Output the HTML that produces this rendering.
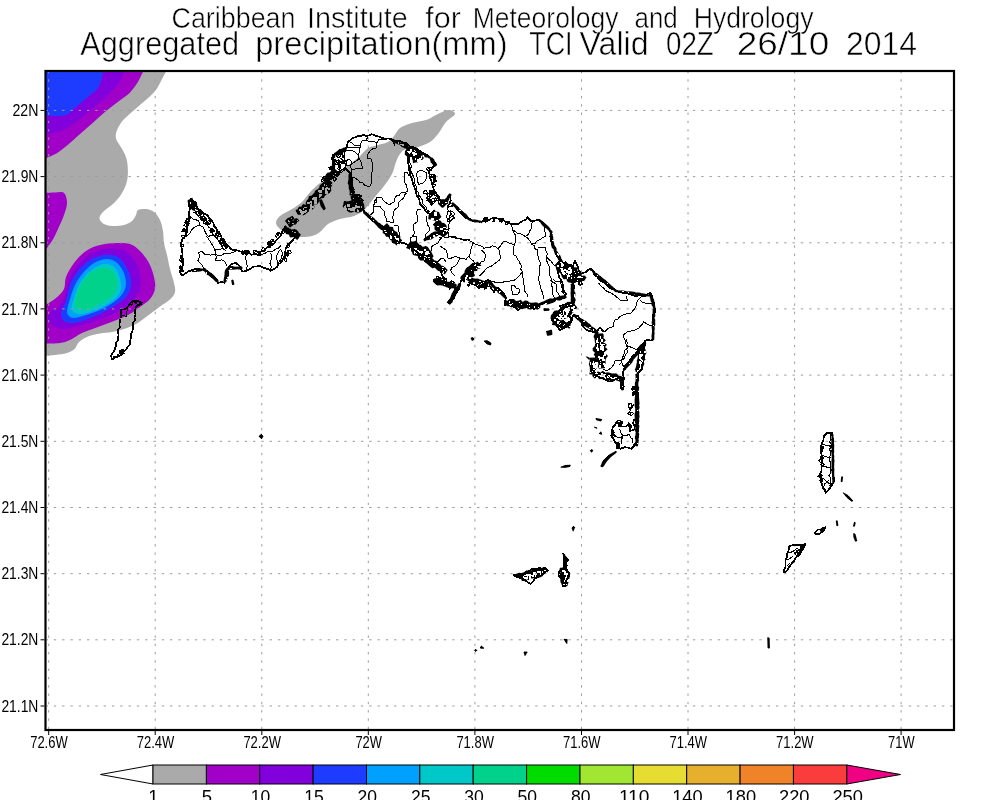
<!DOCTYPE html>
<html lang="en"><head><meta charset="utf-8">
<title>Caribbean Institute for Meteorology and Hydrology - Aggregated precipitation TCI</title>
<style>
html,body{margin:0;padding:0;background:#fff;}
body{width:1000px;height:800px;overflow:hidden;}
svg{display:block;}
text{font-family:"Liberation Sans",sans-serif;fill:#000;}
.t{stroke:#fff;stroke-width:.55px;}
.ax{font-size:16.1px;}
.cb{font-size:18.5px;}
</style></head><body>
<svg width="1000" height="800" viewBox="0 0 1000 800">
<rect width="1000" height="800" fill="#fff"/>
<defs><clipPath id="fr"><rect x="45.5" y="71" width="908.5" height="659"/></clipPath></defs>
<g clip-path="url(#fr)">
<path fill="#aaaaaa" d="M167 70C166.2 71.5 163.6 76.1 162 79C160.4 81.9 159.5 84.6 157.6 87.4C155.7 90.2 153.4 93 150.6 95.8C147.8 98.6 144.3 101.2 140.8 104.2C137.3 107.2 132.9 111 129.6 114C126.3 117 123.4 119.4 121.2 122.4C119 125.4 117.1 129.4 116.3 132.2C115.5 135 115.5 136.6 116.3 139.2C117.1 141.8 119.6 144.6 121.2 147.6C122.8 150.6 125 154 126.1 157.4C127.2 160.8 127.6 164.1 127.8 168C128 171.9 128 176.8 127 181C126 185.2 124.2 189.3 122 193C119.8 196.7 117 200 114 203C111 206 106.3 208.8 104 211C101.7 213.2 100.7 214.5 100 216C99.3 217.5 99.3 218.7 100 220C100.7 221.3 102 223 104 224C106 225 108.7 225.8 112 226C115.3 226.2 120.7 225.8 124 225C127.3 224.2 130 222.7 132 221C134 219.3 135 216.8 136 215C137 213.2 136.3 211 138 210C139.7 209 143.3 208.7 146 209C148.7 209.3 151.7 210.2 154 212C156.3 213.8 158.5 216.8 160 220C161.5 223.2 162.3 227.2 163 231C163.7 234.8 163.3 239 164 243C164.7 247 166 250.7 167 255C168 259.3 168.8 264.3 170 269C171.2 273.7 173.2 279.2 174 283C174.8 286.8 175.6 289.3 175 292C174.4 294.7 173 296.6 170.5 299C168 301.4 163.8 303.8 160 306.5C156.2 309.2 152 312.6 148 315.5C144 318.4 140 321.8 136 324C132 326.2 128 327.7 124 329C120 330.3 116 331.2 112 332C108 332.8 104 332.8 100 333.5C96 334.2 91.5 335.1 88 336.5C84.5 337.9 81.2 339.9 79 342C76.8 344.1 76.5 347.2 74.5 349C72.5 350.8 70.2 352 67 353C63.8 354 58.8 354.5 55 355C51.2 355.5 45.8 355.8 44 356L40 356L40 60L167 60Z"/>
<path fill="#aaaaaa" d="M448 110C451.2 109.8 455.3 112 455 114C454.7 116 448.8 118.7 446 122C443.2 125.3 440.7 130.7 438 134C435.3 137.3 433.3 139.8 430 142C426.7 144.2 422 145.8 418 147C414 148.2 409 147.8 406 149C403 150.2 401.7 151.8 400 154C398.3 156.2 397.3 158.7 396 162C394.7 165.3 394 170 392 174C390 178 387 182 384 186C381 190 377.3 194 374 198C370.7 202 367.3 207 364 210C360.7 213 358 214.5 354 216C350 217.5 344.3 217.7 340 219C335.7 220.3 331.3 221.8 328 224C324.7 226.2 322.7 230 320 232C317.3 234 315.3 235.2 312 236C308.7 236.8 304 237.3 300 237C296 236.7 291.3 235.3 288 234C284.7 232.7 282 230.8 280 229C278 227.2 276 225.2 276 223C276 220.8 277.3 218.3 280 216C282.7 213.7 288.3 211.3 292 209C295.7 206.7 298.7 205.2 302 202C305.3 198.8 308.3 193.7 312 190C315.7 186.3 319.7 183 324 180C328.3 177 333.7 174.7 338 172C342.3 169.3 346.3 166.7 350 164C353.7 161.3 357 158.7 360 156C363 153.3 365 149.8 368 148C371 146.2 374.7 146 378 145C381.3 144 385.3 143.5 388 142C390.7 140.5 392 138.3 394 136C396 133.7 397 130.2 400 128C403 125.8 407.7 124.3 412 123C416.3 121.7 422 121.3 426 120C430 118.7 432.3 116.7 436 115C439.7 113.3 444.8 110.2 448 110Z"/>
<path fill="#a000c8" d="M144.3 69C143.2 71.1 140.4 77.8 138 81.8C135.6 85.8 132.9 89.7 129.6 93C126.3 96.3 122.4 98.4 118.4 101.4C114.4 104.4 110 107.7 105.8 111.2C101.6 114.7 97.4 118.7 93.2 122.4C89 126.1 84.8 129.9 80.6 133.6C76.4 137.3 72 141.5 68 144.8C64 148.1 60.8 150.8 56.8 153.2C52.8 155.6 46.1 158 44 159L40 159L40 60L144 60Z"/>
<path fill="#8200dc" d="M125.4 69C124.2 71.4 121.4 78.7 118.4 83.2C115.4 87.7 110.9 92.1 107.2 95.8C103.5 99.5 99.7 102.3 96 105.6C92.3 108.9 88.5 112.4 84.8 115.4C81.1 118.4 77.6 121.2 73.6 123.8C69.6 126.4 65.9 128.9 61 130.8C56.1 132.8 46.8 134.7 44 135.5L40 135L40 60L125 60Z"/>
<path fill="#1e3cff" d="M103 69C102.8 70.7 102.5 75.7 101.6 79C100.7 82.3 99.7 85.8 97.4 88.8C95.1 91.8 90.9 94.4 87.6 97.2C84.3 100 81.1 102.8 77.8 105.6C74.5 108.4 71.3 112.3 68 114C64.7 115.7 62.2 115.8 58.2 116C54.2 116.2 46.4 115.5 44 115.4L40 115L40 60L103 60Z"/>
<path fill="#a000c8" d="M44 193C45.8 192.9 51.7 192.6 55 192.6C58.3 192.6 62 191.3 64 193C66 194.7 67 199.3 67 203C67 206.7 65.5 210.7 64 215C62.5 219.3 60 224.7 58 229C56 233.3 54.3 237.2 52 241C49.7 244.8 45.3 250.2 44 252L40 252L40 193Z"/>
<path fill="#a000c8" d="M44 306C46 304.7 52.7 300.8 56 298C59.3 295.2 62.3 292.5 64 289C65.7 285.5 64.3 281.3 66 277C67.7 272.7 70.7 267.3 74 263C77.3 258.7 81.7 254 86 251C90.3 248 95 246.3 100 245C105 243.7 111 243.2 116 243C121 242.8 126 242.7 130 244C134 245.3 136.8 247.8 140 251C143.2 254.2 146.7 258.7 149 263C151.3 267.3 153 272.7 154 277C155 281.3 155.7 285.3 155 289C154.3 292.7 152.5 296 150 299C147.5 302 143.7 304.3 140 307C136.3 309.7 132.3 312.7 128 315C123.7 317.3 119 319 114 321C109 323 103.3 325 98 327C92.7 329 86.7 330.8 82 333C77.3 335.2 73.7 338.3 70 340C66.3 341.7 64.3 342.4 60 343C55.7 343.6 46.7 343.4 44 343.5L40 343L40 306Z"/>
<path fill="#8200dc" d="M50 313C52 310.7 57.3 308.3 60 305C62.7 301.7 64.5 297.3 66 293C67.5 288.7 67 283.7 69 279C71 274.3 74.5 269.2 78 265C81.5 260.8 85.7 256.7 90 254C94.3 251.3 99.3 249.8 104 249C108.7 248.2 114 248.3 118 249C122 249.7 125 250.7 128 253C131 255.3 134 259.3 136 263C138 266.7 139.3 270.7 140 275C140.7 279.3 141 285 140 289C139 293 137 295.7 134 299C131 302.3 126.7 306 122 309C117.3 312 111.3 314.7 106 317C100.7 319.3 95.3 321.3 90 323C84.7 324.7 78.7 326 74 327C69.3 328 65.7 329.3 62 329C58.3 328.7 54.3 326.7 52 325C49.7 323.3 48.3 321 48 319C47.7 317 48 315.3 50 313Z"/>
<path fill="#1e3cff" d="M61 313C61.3 309.7 64.5 305.7 66 301C67.5 296.3 68 290 70 285C72 280 74.7 275.2 78 271C81.3 266.8 85.7 262.7 90 260C94.3 257.3 99.7 255.7 104 255C108.3 254.3 112.7 254.7 116 256C119.3 257.3 121.7 259.8 124 263C126.3 266.2 128.8 271 130 275C131.2 279 131.7 283.3 131 287C130.3 290.7 128.5 294 126 297C123.5 300 120 302.3 116 305C112 307.7 106.7 310.7 102 313C97.3 315.3 92.7 317.3 88 319C83.3 320.7 78 322.7 74 323C70 323.3 66.2 322.7 64 321C61.8 319.3 60.7 316.3 61 313Z"/>
<path fill="#00a0ff" d="M67 311C67.2 308.2 68.7 303.3 70 299C71.3 294.7 72.8 289.3 75 285C77.2 280.7 79.8 276.7 83 273C86.2 269.3 90.2 265.3 94 263C97.8 260.7 102.3 259.2 106 259C109.7 258.8 113.2 260 116 262C118.8 264 121.3 267.5 123 271C124.7 274.5 126 279.3 126 283C126 286.7 125 289.8 123 293C121 296.2 117.8 299.2 114 302C110.2 304.8 104.7 307.8 100 310C95.3 312.2 90.3 313.7 86 315C81.7 316.3 76.8 317.8 74 318C71.2 318.2 70.2 317.2 69 316C67.8 314.8 66.8 313.8 67 311Z"/>
<path fill="#00c8c8" d="M72 309C71.5 305.8 73.7 299.3 75 295C76.3 290.7 77.8 286.7 80 283C82.2 279.3 85 275.8 88 273C91 270.2 94.7 267.5 98 266C101.3 264.5 105 263.5 108 264C111 264.5 114 266.5 116 269C118 271.5 119.2 275.7 120 279C120.8 282.3 121.7 285.8 121 289C120.3 292.2 118.8 295.2 116 298C113.2 300.8 108.3 303.7 104 306C99.7 308.3 94.3 310.7 90 312C85.7 313.3 81 314.5 78 314C75 313.5 72.5 312.2 72 309Z"/>
<path fill="#00d28c" d="M75 305C74.7 302.3 75.7 297 77 293C78.3 289 80.5 284.5 83 281C85.5 277.5 88.8 274.2 92 272C95.2 269.8 99 268.5 102 268C105 267.5 107.7 267.7 110 269C112.3 270.3 114.8 273 116 276C117.2 279 117.7 283.7 117 287C116.3 290.3 114.8 293.2 112 296C109.2 298.8 104 301.8 100 304C96 306.2 91.5 308.2 88 309C84.5 309.8 81.2 309.7 79 309C76.8 308.3 75.3 307.7 75 305Z"/>
</g>
<path d="M48.7 72V729M155.2 72V729M261.8 72V729M368.3 72V729M474.9 72V729M581.5 72V729M688 72V729M794.6 72V729M901.1 72V729M46.5 110.4H953M46.5 176.6H953M46.5 242.8H953M46.5 308.9H953M46.5 375.1H953M46.5 441.3H953M46.5 507.5H953M46.5 573.7H953M46.5 639.8H953M46.5 706H953" fill="none" stroke="#9c9c9c" stroke-width="1" stroke-dasharray="2.4 5.9" stroke-dashoffset="1"/>
<g fill="none" stroke="#000" stroke-linejoin="round" stroke-linecap="round" shape-rendering="crispEdges">
<path stroke-width="1.7" d="M131.5 302L134.1 300.8L137 300.5L139.5 301.7L142 302.7L139.1 304.8L136 306.5L135.4 309.1L135 311.7L135.6 314.5L134.5 317L134.9 320.1L132.9 322.9L133.4 326.1L133 329.1L132 332L130.6 334.9L131.1 338L129.9 340.9L130 344L127.8 347L125.5 350L123.3 351.8L121.9 354.4L119.5 356L116.9 357L114.2 357.9L112 359.7L111 356L112.4 353.5L114 351.2L115 348.5L116 346L115.7 343L117.7 340.8L118 338L118.5 335.3L118.2 332.6L118.1 329.8L119.9 327.3L119.5 324.5L119.8 321.5L120.5 318.5L121.1 315.6L121.1 312.5L121 309.5L124.2 309.5L127 308L129.1 304.9ZM298 236.4L295.3 237.5L293.2 239.6L290.9 242.1L288.4 244.4L286.6 246.8L285.6 249.5L285.2 252.4L284.8 255.3L283.7 258L282 260.4L280.8 262.8L278.1 264.2L277.2 266.8L274.1 268.9L270.8 270.8L268.5 269.4L266 268.4L262.7 267.5L259.6 266L256.4 266.4L253.2 266.8L250.9 268.6L248.4 270L245.3 271.1L242 271.6L240.4 266.8L238.1 264.7L235.6 262.8L230.8 264.4L229.1 267.1L227.6 270L226.4 272.5L226.2 275.3L226 278L224.4 282.8L221.2 282L218 282.8L216.4 278.8L213.5 276.3L210 274.8L208.8 272.3L206.5 270.8L204.4 269.2L201.6 269.8L198.8 269.2L196 269.1L193.3 269.4L190.8 270.8L188.1 271.3L186 273.2L182 275.6L179.6 271.6L181.3 268.5L182.8 265.2L182.9 262.5L181.7 259.9L182 257.2L182.6 254.5L182.1 251.9L182 249.2L181.2 246L181.2 242.8L182.5 239.2L185.2 236.4L186.4 233.3L187.1 230.1L186.8 226.8L186.9 223.9L188.9 221.6L189.2 218.8L189.3 215.6L189.1 212.3L190 209.2L189.2 206L189.2 202.8L190.8 198.8L193.3 201.2L196.4 202.8L196.5 206.2L198 209.2L200.9 210.1L202.7 212.6L205.2 214L207.9 215.6L209.2 218.5L211.6 220.4L213.5 222.9L214.2 226.1L216.4 228.4L217.3 231.5L219.6 233.7L221.2 236.4L222 239.5L224.7 241.6L226 244.4L228.6 245.7L230.1 248.3L232.4 250L235.2 249.7L237.8 250.5L240.4 251.6L243.1 251.4L245.7 251.8L248.4 251.6L251.6 254.8L254.8 254.2L258 254.8L259.9 252.2L262.8 250.8L265.3 249.7L266.9 247.3L269.2 246L271.8 245.1L273.9 243.4L275.6 241.2L277.8 238.6L280.4 236.4L282 231.6L283.5 229.2L285.2 226.8L287.3 229L289.3 231.2L291.6 233.2L294.7 234.6L298 235.6M326 177.8L328.7 176.3L331.4 174.8L334 173L334.4 169.7L333.2 166.6L333 163.8L332.7 161L333 158.2L332.4 155.4L335.4 153.8L338.8 153L341.8 150.7L345.2 149L347.1 146.7L347.4 143.7L348.4 141L350.8 139.9L352.8 137.8L355.5 137.3L358 136.2L360.7 136.1L363.3 134.9L366 135.8L368.7 135.6L371.3 134.3L374 134.9L376.6 136.1L379.4 136.8L382 137.8L385.1 138.7L388.4 138.6L391.6 139.4L394.3 140.6L397.1 141.4L400.2 141L402.8 142.6L405.9 143.1L408.3 145.3L410.9 147L414 147.4L416.9 148.6L419.4 150.5L422 152.2L424.6 154L427.5 155.3L430 157.2L432.1 159.4L434 161.8L435.6 164.4L433.2 166.8L431.4 169.4L429.2 171.6L429.4 174.8L430 178L431.4 181.1L432.3 184.3L433.2 187.6L434.4 191L436.4 194L438.7 196.2L439.5 199.4L441.2 202L444.5 201.6L447.6 200.4L448.5 197.8L450 195.6L450.8 200.4L449.6 203.8L447.6 206.8L450.9 206.5L454 205.2L456 207.3L457.2 210L459.7 211.7L461.5 214.2L463.6 216.4L465.8 217.9L468.7 218.2L470.9 219.7L473.2 221.2L476.4 220.9L479.6 221.8L482.8 221.2L486 220L489.4 219.7L492.4 218L495.7 217.9L498.8 218.8L502 219.6L505.1 221.4L508.4 222.8L511.5 224L514.8 223.8L518 224.4L520.4 222.4L523 220.6L526 219.6L527.6 217.2L530.8 221.2L534 221L537.2 220.1L540.4 220.4L541.9 222.7L543.7 224.6L546 226L548.4 228.1L550 231L550.8 233.5L550.3 236.3L550.9 238.8L551.1 241.5L552 244L553.3 246.4L554.6 248.8L555.3 251.4L556 254L557 256.6L559.3 258.3L560.4 260.8L563 262.2L565.2 264L567.9 264.4L570.6 264.9L573.2 265.6L574.8 260.8L576.5 263.9L578 267.2L578.9 270.7L581.2 273.6L586 272L588.1 269.9L590.8 268.8L593.6 270.9L594.4 274.6L597.2 276.8L599.2 279.3L601.4 281.5L604.5 282.7L606.8 284.8L608.8 287.1L611.2 288.6L614.3 289.2L616.4 291.2L619.5 292.2L622.7 292.9L626 292.8L629.1 294.1L632.4 295L635.6 296L638.8 295.6L642 295.7L645.2 296L647.3 294L650 292.8L651.8 295.2L652 298.2L653.2 300.8L654.1 303.4L653.7 306.2L654.8 308.8L655.2 311.7L653.3 314.3L653.3 317.2L653.2 320L652.4 323.2L652.5 326.4L653.2 329.6L652.5 332.8L653.1 336L653.2 339.2L650.7 340.6L647.8 339.8L645.2 340.8L645.2 343.6L644.5 346.2L643.6 348.8L643.5 352.4L644 356L643.6 359.2L643.4 362.4L642 365.5L642.4 368.8L639.9 371.1L637.6 373.6L637.9 376.5L638 379.4L636.9 382.2L637.6 385.1L637.6 388L637.1 390.7L637.9 393.3L638.1 396L637.5 398.7L637 401.3L637.6 404L638.1 406.7L636.8 409.3L636.4 412L636.5 414.6L636.4 417.3L636.8 420L637.9 423.1L637 426.4L636.7 429.6L637.6 432.8L638.1 436.1L637.5 439.2L636.8 442.4L635.1 445.1L632.8 447.2M334 173L337 172L340 171L342.5 169.5L345.2 168.2L347.6 170.6L350 173L350 175.8L351.9 178.2L351.6 181L351.9 183.8L351.2 186.5L350 189L352.2 191.9L353.2 195.4L356.4 194.6L359.6 195.4L360.5 198.3L362.8 200.2L362.2 202.9L363.5 205.5L362.8 208.2L364.4 211.4L366 214.6L368.4 216.5L370.5 218.6L372.4 221L374.9 222L377.1 223.6L379.5 224.7L382 225.8L384.2 227.6L386.4 229.4L388.2 231.6L390 233.8L392.5 235.3L393.9 237.9L395.7 240.1L398 241.8L401.3 242.7L404.6 243.2L407.6 245L410.1 246.1L412 248L414 249.8L416.9 252.1L420 254L422.2 256.4L425.1 257.8L427.2 260.4L430 262L432.4 264.2L435.1 265.9L437.6 267.8L440 270L441.3 272.7L442.3 275.5L444 278L440.7 278.8L437.3 279L434 280L437 281.4L440 283L443.4 282.9L446.7 283.7L450 284L452.8 286.3L456 288L455.7 290.9L454.1 293.4L453 296L451.8 298.4L449.7 300.3L449 303L452 300L454.3 297.7L455.1 294.5L457 292L458.7 289.6L459.5 286.9L460 284L461 281.1L462.6 278.6L464 276L465.5 273.5L468.4 272.4L470 270L472.8 268.2L475.8 266.6L478 264L475.6 266.7L474 270L471.8 272.5L469.7 275.1L468 278L469.9 281.1L472 284L475.3 284.9L478 287L481.1 285.6L484 284L485.4 281.4L488 280L489.6 282.4L489.5 285.5L491 288L494 292L495.4 289.4L498 288L500.5 289.5L502 292L504.6 294.6L506 298L504.8 301.4L505 305L507.1 302.1L510 300L513.3 300.2L516 302L513.6 303.6L512 306L515.4 307.4L518 310L520.4 308.4L522.2 306.2L524 304L526.8 305.6L530 306L534 309L536.5 308L538.1 305.8L540 304L542.8 303.9L545.1 301.9L548 302L551.2 301.5L554 300L557.3 299.4L560.7 299L564 298L566 294L563.9 291.3L563 288L562.8 285.2L562.4 282.5L561 280L559.3 277.6L558.7 274.8L558 272L558.8 269.4L559.9 266.8L560 264M407 153L407.8 156.3L408.2 159.6L408 163L409.1 166.2L409.1 169.7L410 173L410.3 175.9L411.7 178.4L412.5 181.2L413 184L414.2 186.9L415.3 189.9L416.1 193L417 196L418.9 198.2L419.5 201L420 203.9L422 206L424.1 208.2L425.7 211L428 213L430.6 214.2L432.3 216.6L434.8 218M573.2 265.6L572.7 268.4L572.9 271.2L573.2 274L573.2 276.8L572.9 279.6L572.5 282.4L573.8 285.2L573.9 288L572.8 290.8L572.5 293.6L573.2 296.4L573.2 299.2L573.3 302.4L573.2 305.6L569.9 305.7L566.9 307.2L563.6 307.2L561.4 309.1L558.8 310.4L557.6 312.9L555.5 314.6L554 316.8L551.6 320L553.7 321.9L555.7 323.9L557.2 326.4L560.4 326.7L563.6 326.4L566.2 325.5L567.6 322.9L570 321.6L571.9 318.6L573.2 315.2L578 316L579.7 318.7L581.2 321.6L582.2 325.1L584.4 328L586.7 329.7L589.2 331.2L592.5 331.6L595.6 332.8L597.7 335.8L598.8 339.2L599.7 341.9L599 344.6L599.3 347.4L599.7 350.1L599.2 352.8L597.3 355.6L595.2 358.3L592.8 360.8L591.5 363.3L591.8 366.3L590.4 368.8L591.7 372.5L594.4 375.2L597.1 376.2L599.7 377.5L602.4 378.4L605.6 379.9L608.8 381.6L612.2 381L615.2 379.2L617.9 378.5L620 376.8L620.3 380L620.8 383.2L620.8 386.4L621.6 389.6L623.2 389.6L623.8 386.7L623 383.7L623.6 380.8L624 377.9L623.1 374.9L623.2 372L623.8 369.2L624.9 366.5L626.4 364L628.8 361.6L630.9 358.9L632.8 356L635.6 353.8L637.6 351.1L639.2 348L641 345.5L643.1 343.3L645.6 341.6M626 366.4L627.4 363.9L629.1 361.7L631.5 360.1L633.5 358.1L635.3 355.9L636.1 353L638.7 351.5L639.7 348.7L641.6 346.7L643.8 344.8L645.2 342.4M597 331L600 327.5L603 331M552 320L553.5 317.5L556 316L558.6 313.4L562 312L561.6 308.8L560 306L562.6 305L565.3 304.4L568 304L571 303.1L574 302M572 310L569.7 312.8L568 316L570.6 317.4L572 320L570.2 323.2L568 326L565.4 327.4L562.7 328.7L560 330L557.6 327.3L556 324M574 315L575.9 316.8L577.5 319L580 320M616.8 421.6L618.6 423.9L620 426.4L623.2 426.5L626.4 426.4L628.8 423.2L629.7 425.8L629.7 428.5L629.6 431.2L634.4 429.6L634.4 426.4L633.2 423.3L633.6 420L637 420L636.5 423.2L636.6 426.4L638.2 429.6L637.6 432.8L636.5 435.9L637.3 439.2L636.8 442.4L634.4 444.5L632.8 447.2L631.2 448.8L628.1 447.6L624.8 447.2L620 448.8L618.1 446.9L617.1 444.3L615.2 442.4L613.4 439.1L611.2 436L612.1 432.9L612 429.6L613.2 426.7L615.6 424.5ZM513.6 575.2L516.6 575.2L519.2 573.6L524 573.6L526.5 572.7L528.8 571.3L530.9 569.4L533.6 568.8L536.4 568.6L539.2 568.1L542 568.6L544.8 568L547.7 570.4L544.5 572.5L541.6 575.2L538.3 576.7L535.2 578.4L533.2 581.6L530.4 584L527.3 581.8L524 580L521.7 578.6L519.2 577.6L516.2 576.9ZM563.2 553.6L564.5 556.2L566.7 558.1L568.8 560L565.6 561.6L566.7 565.1L566.4 568.8L567.4 571.6L569.6 573.6L568.6 577.1L566.4 580L565.9 583.3L564.8 586.4L562.4 585.6L562.4 582L561.6 578.4L558.4 575.2L559.2 571.2L563.2 568.8L563.6 566.2L563.8 563.5L564 560.8L563.9 557.2ZM827.2 432.8L832 432.8L832.3 435.6L832.7 438.4L833.2 441.2L832.8 444L833.6 446.7L832.4 449.3L832.3 452L832.7 454.7L832.4 457.3L832.8 460L833.3 463.2L833.6 466.4L833.6 469.6L833.6 472.8L832.9 476L834.4 479.2L833.6 482.4L832 484.8L830.4 487.2L828.3 490.3L825.6 492.8L825 490.2L823.2 488.1L822.4 485.6L821.3 482.5L820.6 479.2L820 476L820.6 473.3L821.5 470.8L821.6 468L821.3 464.8L822.2 461.6L820.9 458.4L821.6 455.2L821.2 452.4L820.9 449.6L820.9 446.8L821.6 444L822.9 441.5L823.6 438.8L824 436ZM788.8 546.4L791.5 545.4L794.3 545L797.2 545.1L800.1 545.2L802.9 545L805.6 544L803.9 546.2L802.8 548.7L801.6 551.2L799.9 554L797.5 556.1L795.2 558.4L794.1 561.1L792 563.2L790.3 565.5L788.8 568L786.8 570.8L784 572.8L784.1 569.5L785.6 566.5L785.6 563.2L785.3 559.9L787.2 556.9L787.2 553.6L788.7 550.2ZM814.4 533.6L817.6 529.6L820.5 529.6L822.9 527.8L825.6 527.2L824 530.4L821.5 532.3L819.2 534.4Z"/>
<path stroke-width="1" d="M121.5 309.5L124.5 309.3L127.5 308.7L127 311.4L126.1 314.2L127 317L124.4 315.9L121.5 315.5L121.1 312.5ZM190.8 217.2L193.1 219.2L196.1 219.8L198.8 221.2L199.6 225.2L196.7 226.2L194 227.6L191.6 230.1L190 233.2L186 236.4M199.6 225.2L202.8 226.8L204.4 230L205.9 233.5L208.4 236.4L213.2 234.8L215.4 236.7L218 238M206.8 236.4L208.4 238.8L210 241.2L211.6 243.9L213.3 246.5L214.8 249.2L215.6 254L216.3 257.2L215.6 260.4L218.5 260.7L221.6 259.9L224.4 261.2L226.8 265.2M198.8 252.4L202 251.6L205.2 254.8L207.8 254.8L210.4 255.1L213 254.7L215.6 254.8M198.8 252.4L199.6 257.2L198 260.4L199.9 262.9L202 265.2L203.6 268.4M215.6 249.2L219.3 249.8L222.8 248.4L226 250.8M215.6 254L218.2 255.6L221.2 255.6L224.1 253.6L227.6 253.2L230.4 253.3L233 252.4L235.6 251.6M246 251.6L246.6 254.5L245.2 257.2L246.8 262L247.1 265.6L246.8 269.2M270.8 253.2L271.4 255.9L271.7 258.5L270.7 261.2L269.9 263.9L271.2 266.5L270.8 269.2M259.6 254L262.6 254.2L265.3 253.2L267.8 251.4L270.8 251.6L273.6 250.9L275.7 249L278.5 248.2L280.4 246M280.4 249.2L278.6 251.7L277.3 254.3L276.4 257.2L277.1 260.4L277.2 263.6L279.4 261.3L281.2 258.8L282 255.6L282 252.2ZM194 212.4L196.8 214.4L199 217.1L202 218.8L204.2 221.4L206.9 223.6L208.4 226.8L210.9 228.9L212.4 231.7L213.2 234.8L215.8 237.1L218 239.7L219.6 242.8L221.2 244.9L222.4 247.3L224.4 249.2M348 141L352 143L354 145L357 145.6L360 146L360.8 143.4L362 141L366 140L368 137M347 148L350.1 147.8L353 147L356.6 147.1L360 148L360 146M360 148L359 153L358 155M344 151L347.5 150.4L351 150L355 152L358 155M366 140L368.6 141.3L371.6 141.3L374.4 141.6L377 143L379 139L382 139.9L385 139M377 143L376 148L373.3 148.6L371 150L368 154L367 158L371 159L372 161.9L372.6 164.9L373 168L372.3 170.7L371.5 173.3L371 176L371.3 179.4L371.4 182.8L370 186L367 186L364.4 185L362.8 182.5L359.8 182.2L358 180L355 178L352 177L351.9 173.5L352 170L355.4 168.8L359 169L363 168L361.4 165.2L361 162L359 158L358 155M359 158L357.5 160.2L355.1 161.5L353 163L350 166L352 170M333 155L338 154L340 158L344 161L345.2 163.9L345 167L344.4 170L342 172L339 172.9L336 172L333 168L332.3 165.4L333 162.8L332 160.2L331.9 157.6ZM344 151L344.1 154L344 157L345 161M346 161L349 159L352 162L350 166L346.5 165ZM335 160L337.6 160.8L340 162L338.6 164.3L338 167M334 164L339 165M390 139L393 141.4L394.5 145L395.5 140.5M408.8 153L409.3 156.3L409.7 159.6L409.8 163L411.5 166.1L410.1 169.9L411.8 173L413.1 175.6L414.2 178.3L414.1 181.2L414.8 184L416.5 186.6L416.5 189.8L418.1 192.5L418.8 195.5L420.8 197.5L422.2 199.8L422.1 202.9L423.8 205L426.1 206.9L427.1 209.9L429.5 211.8M404 173L404.6 176.5L405 180L404.7 182.9L406.8 185.2L407 188L408 191L404.7 192.5L401 193L399.3 195.1L396.6 195.8L395 198L394 202L391.4 203.3L389 205L386.4 202.9L383.7 201L382 198L377 197L375.6 199.5L374 202L374 205M404 173L407 172L409 176M417.2 171.6L422 170L424.3 171.8L426.8 173.2L426.8 176.7L425.6 179.9L423.6 182.8L418.8 184.4L417.5 181.3L417.3 178.1L416.6 174.9ZM426.8 194L429.8 192.5L433.3 193.3L436.4 192.4L436.1 195.2L438.1 197.6L438 200.4L435.2 201.2L433.8 203.6L431.6 205.2L429.7 202.3L426.8 200.4L427.7 197.2ZM376 198L377 202L374.3 203.3L373 206L374 210L372.8 213.1L370 215M374 207L377 206.3L380 206.5L382.3 209.4L385 212L384.4 215.4L386.6 218.6L386 222L388.7 221.5L391.3 222.8L394 222L392.8 218.8L393.1 215.4L393 212L395.2 209.2L398 207L399 202L401.3 200L403.7 198.1L404.5 194.8L407 193M394 225L398 226L398.2 228.8L398.8 231.5L400 234L399.3 236.7L399.9 239.3L400 242M421 209L418 209.7L416 212L417 214.6L417.5 217.3L418 220L416.8 222.4L414.2 223.6L413 226L413.4 228.7L414.2 231.3L414 234L412.5 236.5L410 238L410 241.1L411 244M413 236L417 237L416 242M427 216L426.8 219L427 222L427.6 224.8L429.2 227.2L430 230L428 232L426 234L425.7 237.2L424 240M449 236L451.6 237.1L454.6 236.3L457 238L460 238.9L463 240L466.6 240.1L470 239M442 238L439.5 239.7L438.2 242.7L435.8 244.4L432.7 245.4L431 248L431 250.7L430.8 253.4L432 256M447 208L448.4 211L451.1 212.9L452.3 216L455 218L452.4 218.9L450.5 221L448 222L447.5 219.2L446.7 216.5L447.2 213.6L448.2 210.7ZM440 237.4L443 236.7L446 237.8L449 236.9L452 237L455 238L457.6 238.9L460.5 238.6L463 239.7L466.2 239.5L469.2 240.5L472 242L474.4 243.6L477.1 244.7L479.7 245.8L482.5 246.4L484 248.8L486.5 247.2L489.7 247.8L492 245.8L495.3 246.7L498 248.8L500.1 246.3L501.9 243.5L504 241L508.6 242.7L511.5 244L514.7 244L515.6 241L516 238L515.6 235.3L514.1 233L513 230.5L511.7 226L511 223M472 242L472.2 244.8L471.7 247.5L470.5 250L470.6 253.2L469 256L470.7 259L473.5 261L475 264M481 250L483.3 251.6L485 253.6L485.8 256.4L484 261L481.3 261.7L479.7 264M498 248.8L499.6 251.1L499.2 254.2L501 256.4L499.4 260L496.4 262.5L493.9 264.1L491.6 266L488.8 267L486.3 268.5L484.6 270.8L482.7 273L479.7 276M514.7 244L513.8 246.6L513 249.2L513 252L513.8 254.7L516.3 256.3L517.3 258.9L519 261L520 263.6L521.5 266.1L520.8 269.2L522.4 271.7L522.5 274.5L522.4 277.3L524 279.8L523.6 282.7L524 285.4L524.8 288.4L525 291.6L527.2 294.3L527 297.6M522.4 271.7L520.5 274.4L518.2 276.6L516 279L513.3 280.9L510 280.9L507 282L504.3 281.7L501.7 282.7L499 282.4L496.4 283L493.4 281.5L489.9 280.9L487 279M513 230.5L515.6 231.4L517.5 233.9L520.6 233.8L523 235.2L525.4 236.6L528.1 238.5L529.9 241.1L531.5 244L534 245.5L534.9 248.7L537.6 250L537.7 252.9L538 255.8L538.4 258.6L539.8 261.3L540.7 264L539.3 266.9L539.8 270L539.6 273L539 276L538.5 278.8L539.1 281.3L539.5 283.9L541 286.3L540.9 289L542 291.5L543 295.2L543.7 299M525.4 236.6L528.6 234.2L530 230.5L531.9 227.6L531.6 224L533 221M531.5 244L535 243.4L537.3 240.5L540.7 239.7L542.3 237.4L545 236.6L545.5 233.6L544.5 230.5L545 227.5M537.6 247L541.3 247L545 247L545.3 250.2L547.2 253.1L546.8 256.4L548.4 259.3L551.3 261.2L552.9 264L555.5 265.9L558.2 267.7L560.5 270M546.8 256.4L546.7 259.3L547.1 262.1L548.5 264.7L549.4 267.5L549.4 270.3L549.6 273.2L549.8 276L551.5 278.9L552.1 282.1L551.6 285.5L552.9 288.5L553 291.6L552.9 294.7L554.4 297.6M553 279L555.1 281L557.7 281.8L560.5 282L561.3 285.1L562.2 288.2L562 291.5L563.8 293.5L565 296M549.8 280L552.9 281.9L556 284L556.3 286.7L556.6 289.3L557 292L558.8 294.3L560 297M447.6 258L451.5 258L455 256.4L459.8 258L458.7 261.2L456.8 264L454.8 266.1L452.1 267.4L450.7 270L452.3 273.4L455 276M459.8 258L463 258.3L466 259.5L469 256M511.7 285.4L514.4 285.9L516.3 288.1L519 288.5L519.5 291.8L517.8 294.6L513 294.6L511.7 290ZM449 220L450.4 217.3L453 215.8L455 213.7L452.9 212.1L450.7 210.7L450.4 214L449.6 217.1L447.6 219.8ZM449 220L449.7 222.8L448.4 225.5L449.1 228.3L447.9 231.1L448.4 233.8L449 236.6M446 262L444.2 259.2L441 258L439.1 260.8L436 262L438.2 263.6L440.2 265.3L441 268M440 246L443.1 247.9L446 250L446.9 252.6L448 255.1L447.6 258M603.6 332L606.1 330.7L607.9 328.4L610.6 327.4L613.2 326.4L613.5 323.1L614.8 320L617.8 319L620 316.6L622.8 315.2L625.4 314.1L627.9 313.1L630.8 313.6L632.3 311.4L634.2 309.5L635.6 307.2L636.8 304.1L637.2 300.8L640.4 297.6M640.4 300.8L642.8 302.5L645.5 303.1L648.4 303.2L653.2 304M622.8 336L624.6 334L626.6 332.2L629.2 331.2L632.6 330.7L635.8 329.7L638.8 328L640.4 325.9L642.6 324.2L643.6 321.6L646.7 323.7L650 325.6L653.2 326.4M622.8 336L624.3 338.5L625.6 341.1L626 344L627.6 346.5L626.8 349.4L627.6 352L625.2 354.8L624.4 358.4L622.1 360L621.3 362.7L619.6 364.8M598.8 283.2L600.9 285.9L603.6 288L605.5 290.4L608 291.8L610.7 293L613.2 294.4L616 296.4L618.5 298.7L621.2 300.8L624.4 300.1L627.6 300.8L626 296M626.4 340L627.4 342.6L626.5 345.4L627.2 348L624.9 350.2L624.4 353.3L623.2 356L621.6 360.8L618.4 361L615.2 360.8L613.9 364.1L612 367.2L609.7 368.9L607.2 370.4L603.2 369.6M621.6 360.8L622.2 364.2L624 367.2M604 372L606.5 374.3L608.8 376.8L610.6 379.2L613.6 380M626.4 346.4L629.8 346.7L632.9 348.1L636 349.6L638.2 348L640.2 346.2L642.4 344.8M620 429.6L620.9 433.1L623.2 436L622 438.5L621.2 441.1L621.6 444M629.6 434.4L630.4 437.2L632.7 439.3L632.8 442.4M615 436L617.4 437.2L620 438L623.2 436L626.4 435.3L629.6 434.4M822 444L825.2 445L828.5 445.5L831.5 447M822 455L824.9 456.3L827.8 457.5L831 457.5M822.4 466.4L825.2 466.1L827.7 467.8L830.4 468L831.9 470.3L832.8 472.8M821.6 477.6L824.2 479.2L826.3 481.5L828.9 483.3L832 484M830.6 434L830.2 436.6L831.2 439.2L829.6 441.8L831.1 444.4L830.7 447L829.6 449.6L830.7 452.2L830.8 454.8L829.3 457.4L829.2 460L830.6 462.6L830.4 465.2L830.6 467.8L830.9 470.4L830.5 473L828.9 475.6L830.8 478.2L830.5 480.8L830.5 483.4L829.8 486M824 486L825 483.4L827.4 482L829 480M789 553L792 551.8L794.7 550.3L797 548L800 551M787 560L790.2 558.2L793 556"/>
<path stroke-width="1.1" d="M132.6 300.9L132.8 304.6L130.6 303.8ZM132.5 304.2L131.6 305.6L130.6 304.1ZM134 301.4L136.6 300.9L136 303.4ZM137.2 301.5L139.5 301.9L140.1 303.8L137.5 304.6L136.1 303.2ZM141.7 304.1L139.2 303.8L140.2 301.5ZM121.8 354.2L121.6 350.8L123.3 350.1L124.1 353.2ZM121.7 353.7L120.3 352.5L121.1 350.5L123 349.7L123.5 352ZM117.4 356.5L117.1 355.2L118.7 354.6L119.1 356L118.4 356.6ZM114.7 358.1L113.3 357.2L114.8 356.2L115.4 357.3ZM119.1 353L119.2 350.5L122.2 349.7L123.2 350.6L122.3 353.4ZM221 237.9L224.2 239.3L220.4 241.2ZM210.1 221.2L210.8 223.5L208.3 224.8L206.7 223.3ZM206.3 219.8L206.8 222.4L206.5 223.6L203.3 223.2L203.9 219.4ZM196.8 211.1L196.9 213.7L195.1 212ZM216.8 234.5L216.3 232.3L219.5 232L221.1 235.4L218.2 236.9ZM212.6 230.8L211.5 231.7L209.7 230.5L211.1 228.8ZM199.2 213.3L197.7 211.3L199.2 210.1L200.7 212.5ZM228 244.9L226.5 247.3L224.5 246ZM202.3 212.9L204.1 214.5L202.9 217L200.6 216.5L201.2 213.6ZM215.1 235L216.9 232.5L219 234.5L217.7 236.1ZM225.4 248.6L226.1 246.7L227.2 247.8ZM221.7 244L219.2 243.6L219.5 240.2L223.1 241ZM201.7 218.2L201.9 216.1L204.5 216.4L203.8 218.9ZM206.5 223.1L206.3 224.8L204.7 223.9L205.2 222.2ZM223.4 240.9L225 241.1L225.4 242.1L223.4 243L222.5 242.2ZM200.7 214.6L198.6 216L196.5 214.5L199.1 213.5ZM201.7 220.8L200.7 219.1L202.1 217.9L203.9 220.1ZM202.4 216.2L206.5 218.5L201.9 220ZM204.3 219.6L204.2 218.4L206 218.5L205.7 219.6ZM222 242.9L223.6 242.3L224.8 244.3L221.8 246.2ZM208.4 224.7L207.1 221.2L209.9 220.5L210.9 223.1ZM200.3 215.4L200.1 213.4L201.8 214ZM223 243.2L221.3 243.6L220.1 239.8L222.4 238.6L223.7 239.9ZM214.8 231.6L210.9 232.4L211.1 230.4L212.8 228.9ZM205.8 218.4L206.8 220.9L204.5 220.6ZM200.5 215.8L198.9 213.5L200.8 212L202.5 212.7ZM243 252.3L245.7 251.6L245.5 253.5L243.2 254.2ZM246.2 254.8L244.7 252.3L247.3 250.1L247.7 254.1ZM261 255.8L258.9 255.3L260.6 253.4ZM253.8 254.8L253.9 250.9L256.5 250.4L257.3 252.1L256.5 254.3ZM247.6 250.4L249.6 251.8L247 255L245.3 253.3ZM244.9 250.6L246.8 250.7L246.8 252.6L245.5 252ZM255.4 250.7L259.4 252.3L256.9 255L254.3 254.5ZM242.4 254.2L241.5 252.6L242.8 250.9L244.4 252.1ZM261.3 250.5L262.9 247.3L265.2 248.6L264.2 251.3ZM270.9 242.9L272 244.8L270.2 244.7ZM270.1 247.4L268.7 247.4L268.1 245.9L270.1 246ZM274.8 242.6L272.2 245.5L270.3 243.3L270.4 242.3L272.9 240.5ZM284.3 232.8L283.5 233.9L281.3 232.9L283.2 229.8L284.8 230.6ZM276.8 235L276.6 233.2L279.1 232.6L278.7 235.3ZM271.3 239.4L273 239.4L272.7 240.9L270.9 241.8L270.8 240.4ZM271.6 243.4L269.8 245.6L266.9 244.1L268.8 241.7ZM268.3 245.6L269.5 245.9L270.4 246.8L269.4 247.2L267.9 247.1ZM277.3 233.2L278.1 234.8L276.3 237L275.1 236ZM271 243.1L268.9 244.2L268.7 241.5L270.9 241.2ZM270 246.4L268.7 246.3L268.6 244.7L269.7 244.2L270.7 245.3ZM188.2 223L189.3 223.6L187.8 224.9L186.9 223.8ZM186.4 230L182 231.5L183.5 228.5ZM188.7 225.8L186.4 226.8L183.9 225.4L186.8 222.1ZM188.3 220.2L186.5 219.1L188.6 217.3L189.2 219.6ZM184.6 238.1L182.1 237.5L181.6 235.9L184.1 234.9L184.8 236.3ZM185.3 231.6L183.6 230.5L184.1 229.6L186.2 229.7L186.7 230.6ZM190.3 216.5L191 218L189.7 218.2L188.3 217.4L189.2 216.7ZM187.9 223.3L184.9 222.9L186.2 220.3ZM187.1 229.7L188 231.8L185.9 232.6L184.1 230.4ZM181 260.2L184 260L183.7 262.2L180.7 261.6ZM180.4 255.6L183 256.2L182.5 257.4L180.6 258.1ZM180.9 261.6L182.9 261.1L182.6 263.3ZM182.3 269.3L179.2 268L180.4 265.8ZM183.3 246.4L181.8 246.7L181.3 245.4L182.2 244.8L183.2 244.9ZM183.3 271.7L181.4 271.3L181.2 269.9L182.7 269.6ZM180.3 267.7L182.7 267.7L182.3 270L180.2 270.9ZM182.9 258.2L183.3 259.2L182 261.7L179.6 260.3L180.2 258.7ZM285.1 252.6L287.4 252.1L287.6 254.2L286.5 254.3ZM289.9 250.6L291.4 252.6L289.2 254L286.9 252.7L287.5 250.6ZM281.9 262.4L280.4 261.8L281.6 260.5L282.4 261ZM284.8 254.3L288.2 251.3L289.3 253.7L287.2 255.7ZM288.6 247.3L286.3 246.7L287.9 243.6L290.1 246.1ZM283.9 259.2L283.4 257.6L285.1 255.5L286.2 258.3ZM285.2 261.5L284.3 259.5L285.6 258.3L287 259.2L286.5 261.2ZM287.2 253L288.3 255.3L287.1 256.3L285.5 254.4ZM329.4 179.9L330.3 177.4L331.1 179.7ZM330.3 176.4L332.3 177L332.2 179L330.3 178.4ZM322.2 179.3L323.9 176.1L326.4 178.1ZM326.1 179L329.6 177.6L329.1 180.8ZM325.5 183.8L326.8 181.9L328.1 182.9L328 185.2ZM330.5 185.3L328.1 185.3L329.3 183.9ZM334.9 178.1L333.9 173.6L337.3 176ZM321.1 181.6L323.2 177L324.6 180.6ZM338.4 175.5L336.2 175L336.7 172.9L339.7 173.2ZM333.7 173.5L336.5 174.5L334.4 175.7ZM327.2 184.7L327.8 181.6L329.6 182.5L330.3 184.6ZM334.1 181.5L333.2 177L336.7 178.9ZM340.4 162.1L343.6 161.4L341.8 164ZM330.9 170L333.9 168.5L334.2 170.9L331.9 172.2ZM339.7 169.5L337.6 168.8L338.5 167.2L340.1 168.1ZM337 174.5L337.3 172.6L339.5 173.8ZM328.8 167.7L331.7 166.9L334 168.3L332.2 170.3L329.7 169.5ZM343.1 150.9L345.1 151.1L344.4 152.4ZM334.1 163.9L332.7 160.4L335 159.2L336.5 162.8ZM340.4 156.6L337.5 157.5L336.3 154.9L340.1 153.9ZM332 168.2L333.4 168.8L333.1 169.8L331.9 169.7ZM331.4 167.1L332.8 165.8L333.9 167.9ZM340.9 165L340.4 168.5L338 165.1ZM334.1 170.6L332.1 169L333.9 167.9ZM334.3 173.2L332.8 171.8L334 170.3L335.6 172.4ZM343.6 162.3L343 163.4L341.5 162.8L342 161.3ZM342 149.1L343.9 149.8L342.1 152.1L339.7 152.1L339.8 149.7ZM332.9 168.9L329.8 168.1L331 166.1L334.3 167ZM342.9 154.7L344.6 156.8L342.9 157.2ZM345.6 160.7L345.3 162L343.9 162.3L343.5 161.7L344.3 160.7ZM337.8 163.2L338.7 159.3L340.5 162.1ZM341 153.9L341.2 152.4L342.3 151.8L343 153L342 154.4ZM432.1 177.6L433.8 176L434.7 177.9L433.5 178.2ZM431.3 177L431 174.4L434.2 174.7L432.9 176.7ZM429.2 169.3L428.7 167.5L431.7 167.5L430.8 170.4ZM436.1 182.1L434.5 181.5L436.2 180.1ZM433.1 178.5L435.6 179.9L433.1 182.4ZM432.4 191.1L433.1 189.6L434.2 190.8L433.3 191.7ZM431.2 170.3L429.2 171.5L426.3 168.6L428.3 167.1ZM435.3 184.3L435.2 186L433.9 186.9L432.6 185.3L433.4 184.5ZM436.1 181.2L433.8 183.2L433.2 180.8ZM434.6 179.9L433 179.1L434.3 178.1L435.1 179.3ZM433.9 178.6L432.7 176.3L435.5 175.6L435.7 177.9ZM436.8 195.3L434.9 195.5L434.7 192.2L436.5 192.1ZM437.3 200.8L435.7 198.8L437.3 197.9L438.1 198.2L438.7 200ZM430.9 197.2L429.8 195.8L429.4 194L433 193.9L432.9 195.4ZM430.6 190.2L432.2 191.7L431.8 192.7L429.7 193.3L429.3 191.2ZM441.9 201.5L441 204.6L438.4 202.9L438 200.4ZM429.5 198L428.6 199.3L426.7 198.3L426.8 197.1L429 196.1ZM431.5 200.9L432.2 198.1L435.4 198.2L434.2 201.5ZM430.7 202.6L428.5 201.1L429.8 199.5L432.2 201.3ZM432.4 194.7L430.8 195L429.8 192.6L431.2 191.7L433.2 192ZM437 196.7L438.6 198.9L437.6 200.7L434.5 200.5L435.3 197.4ZM429.3 195.4L431.8 194.3L431.9 196.1L430.1 196.5ZM433 203L430.9 204.4L429.8 202L431 200.9ZM423.5 193.8L424.3 190.6L426.6 190.4L427.6 194.1ZM350.7 188L353.7 188.5L353 191.3L351 190.9ZM356.1 197.8L357.9 198.1L357.8 199.5L355.9 199.2ZM357.1 196.6L358.9 200.9L354.7 198.5ZM356.6 198.6L357.6 198.2L359.3 198.7L358.5 200.4L357.3 201.3ZM356.7 199.5L357.7 198.1L359.4 199.1L358.9 200.3ZM354.4 192.8L350.5 192.4L350.6 190.6L353.5 189.5ZM359.5 198.6L356.6 195.6L358.5 194.7L361.7 195.5ZM353.5 187.7L354.2 189.7L353.2 190.1L351.5 190L351.9 187.7ZM444.3 281.9L443.9 279.7L446.3 278.5L446.8 281.9ZM434.2 279.9L436.5 280.7L436.4 282.8L433.9 282.1ZM452.6 284.8L450.8 282.4L452.3 281.3L454.4 282.4ZM451.2 280.9L452.2 283.5L449.3 282.9ZM439.3 279.4L437 279.5L436.3 276.2L440.5 277.6ZM444.8 280.6L446.8 283.9L443.1 282.8ZM449 282.2L450.6 282.4L450.3 284.2L448.7 284.5L448.1 283.3ZM450.4 283.9L451.9 286.5L449.7 289L447.5 285.9ZM438.6 279.5L439.7 279.2L442.1 280.7L440.6 282.8L438.7 283ZM439.5 279.4L441.3 280.9L440 283.6L438 282.8L438.1 280.8ZM479.4 286.5L480.3 282.7L482.9 283.1L483.1 287.6ZM472.8 281.8L470.9 283.7L468.7 282.7L470.1 279.6L472.1 280.9ZM469.9 284.7L468.2 286.6L467.6 284.5ZM479.2 284.7L481.2 286.2L479.1 288.4L477.3 287.4ZM484.5 284.8L483 284.4L484.3 283ZM486.6 288.1L484.3 289.2L484.7 285.9ZM475.6 285.1L475.2 282.5L476.7 280.6L478.9 283.2ZM484.3 286.1L484.9 284.1L486.2 286.4ZM484 283.9L488.4 286.5L484.5 287.6ZM478.7 283.4L477.1 283.9L476.9 281.9L478.4 281.4ZM487.8 218L487.1 220.8L483.7 219.6L484.2 217.2ZM507.5 222.5L507.2 224.8L505.8 224.2L505.7 222.9L506.1 222.6ZM492.8 221.8L493.3 219.9L494.2 219.5L495 220.8L494 222ZM484.4 220.2L486.7 218.7L487.5 221.5L485 221.3ZM507.5 222.5L508.6 221.1L510 223.1L508.9 224ZM501.7 221.3L500.2 221.9L499 219.7L501.5 219.4ZM500.6 219.2L503.4 218.5L503.3 220.8L501.2 222.5L499.8 220.7ZM485.5 222.1L483.2 221.6L483.1 218.6L485.8 219L485.8 220.8ZM570 274.6L573.4 275L574.1 276.4L570.8 276.7ZM577.1 271.7L575.9 273L575.1 271.8ZM566 267.2L567.1 265.1L568.7 267.5ZM565.5 261.8L567 263.1L565.7 264.9L564.3 263.5ZM572.9 283.7L571.4 281.9L574.1 279.7L576.3 280.8ZM579.6 274.6L577.9 276.2L576.1 275.3L577.7 273.4ZM564.7 266L566.3 265.1L566.6 267.1L565.2 267.1ZM572 276.7L570.4 275.7L571.7 273.5L573.7 275.2ZM576.4 278.3L572.7 279.1L574.1 274.5ZM577.7 272.9L575.2 276L574.7 272.4ZM563.1 275.3L566 274.9L566.1 277.1L564.2 277.8L562.9 276.6ZM571.2 279.4L569 280.2L568.2 279.1L568.9 277.1L570.8 278.2ZM582.5 279.9L581.1 281.4L580.2 280.9L579.6 279L582.5 278.3ZM580 280.7L582.7 284.2L578.2 284ZM632.8 388.1L634.2 386.6L634.6 389.3ZM637.4 392L637.7 393.3L634.7 394.8L632.7 392.7L634.8 391.3ZM633 395.3L633.1 392.2L635.8 393.8ZM632.2 386.9L635.1 386.9L634.2 389.5L632.3 390.1ZM632.6 387.6L633.7 388.7L632.1 389.6L631.4 388.4ZM627.4 413.8L629.1 411.7L633.6 413.2L631.7 415.4ZM630.7 410.3L629.1 409.3L630.6 408.3ZM631.1 405.2L633.8 405L632.4 407.2ZM631.5 403.9L632 408.1L628.6 407.8L628.5 404ZM629.1 414.9L628.9 413L630 412.8L630.7 414.2ZM616.7 444.8L619 446.2L617.5 447.1ZM616.6 445.2L617.2 442.4L619.8 443.8L618.3 445.9ZM612.2 431.7L613.4 431.1L614.1 432.3L613.3 433.2L611.8 432.5ZM613.2 432.3L611.5 430.2L613.7 430.2ZM618.9 445.9L619.8 447.2L617.8 448.4L616.1 447.8L617.3 445.8ZM616.6 445L618.5 444.7L617.9 446.8ZM612.9 435.4L614 434.8L615.2 435.7L613.7 437.5L612.5 437ZM616.7 446.6L619 444.6L619.8 447.3ZM620 422L621.2 421.2L622.4 423.3L620.5 424.3L619.6 423.7ZM618.4 426.9L618.1 424.2L619.1 422.8L621.5 424L620.8 425.4ZM617 422L617.8 420.4L620.6 420.9L619.7 423.4ZM630.6 425.6L631.9 425.7L631.7 427.3L630.4 426.9ZM622.8 422.2L622.5 423L620.3 423.2L620.3 422.3L621.2 421.1ZM620.4 425.9L618.6 425.6L619.6 422.8L621.1 423.1L622.1 425.1ZM630.9 424.4L630.5 426.9L628.5 426.9L627.7 424.9ZM629 426.6L630 424.7L631.3 425.4L630.2 427.4ZM822.1 478.7L821.6 480L820.3 479.4L820.7 477.7ZM820.5 458L822.8 459.9L820.5 462.7L818.9 460.7ZM820.3 472.7L822.4 475.9L818 476.4ZM821.1 462.6L824.2 464.6L821.8 466.2ZM820.2 458L821.6 455.7L823.4 457.8L822.1 459.5ZM823.6 448L821.4 447.1L823.5 446.4ZM820.4 450.7L820.6 448.1L822.1 448.5L823 450.8L821 451.9ZM820.3 479.3L822.4 480L822.6 480.8L821.1 481.8L819.7 480.5ZM804.2 547.8L803 550.2L800.9 548.5L801.4 546.7L803.5 545.1ZM798.6 553.4L797.6 553.4L796.7 550.8L799.9 549.9L800.7 552.2ZM794.6 553L798.3 552.7L796.7 555.8ZM787.6 565.6L789.5 563.5L791.2 564.8L789.4 567.4ZM798.6 556L797.2 553.1L799.3 552L801 554ZM801.4 549.1L800.4 548.8L800.7 547L802.5 547.6ZM802 549.4L800.3 550.3L800.5 548.7ZM801.1 549.9L801.9 551.2L800.9 551.7L800 550.6Z"/>
</g>
<mask id="hm" maskUnits="userSpaceOnUse" x="0" y="0" width="1000" height="800"><rect width="1000" height="800" fill="#fff"/><path fill="#000" shape-rendering="crispEdges" d="M195 209h1v1h-1ZM190 202h1v2h-1ZM195 207h1v1h-1ZM195 209h1v1h-1ZM194 270h2v1h-2ZM209 273h1v2h-1ZM206 272h1v2h-1ZM227 271h1v1h-1ZM227 277h2v1h-2ZM226 279h1v1h-1ZM231 268h1v1h-1ZM230 268h1v1h-1ZM295 234h1v1h-1ZM288 229h1v1h-1ZM292 231h1v1h-1ZM289 231h1v1h-1ZM289 230h1v1h-1ZM295 235h2v1h-2ZM294 232h2v1h-2ZM291 218h1v1h-1ZM289 221h1v1h-1ZM288 220h1v2h-1ZM297 220h1v1h-1ZM292 223h2v1h-2ZM293 223h1v1h-1ZM305 210h2v2h-2ZM300 211h2v2h-2ZM302 211h2v2h-2ZM312 206h2v2h-2ZM302 213h2v1h-2ZM301 212h2v3h-2ZM299 209h2v2h-2ZM303 208h1v2h-1ZM301 210h1v1h-1ZM304 211h2v2h-2ZM304 207h3v1h-3ZM309 209h3v3h-3ZM310 207h2v2h-2ZM311 203h1v3h-1ZM319 197h1v1h-1ZM310 201h2v2h-2ZM310 204h2v3h-2ZM315 200h2v2h-2ZM315 202h2v2h-2ZM314 202h1v2h-1ZM314 197h3v3h-3ZM307 202h3v2h-3ZM313 197h2v3h-2ZM319 194h2v3h-2ZM312 198h1v2h-1ZM314 200h2v2h-2ZM320 190h2v2h-2ZM323 188h1v2h-1ZM319 192h3v1h-3ZM320 194h2v2h-2ZM323 187h1v1h-1ZM318 190h2v2h-2ZM326 187h2v2h-2ZM326 184h2v2h-2ZM330 184h2v1h-2ZM328 188h2v2h-2ZM322 187h1v3h-1ZM324 184h1v2h-1ZM325 191h3v3h-3ZM325 188h2v3h-2ZM319 190h1v2h-1ZM327 184h3v2h-3ZM327 183h3v1h-3ZM320 192h1v1h-1ZM326 188h2v1h-2ZM334 173h2v2h-2ZM329 178h1v1h-1ZM333 175h1v1h-1ZM328 177h1v1h-1ZM333 168h1v1h-1ZM333 158h2v2h-2ZM339 152h1v2h-1ZM343 149h1v1h-1ZM398 142h1v2h-1ZM414 150h1v1h-1ZM423 155h1v2h-1ZM400 144h2v1h-2ZM415 151h1v1h-1ZM402 144h2v2h-2ZM410 149h2v3h-2ZM413 152h2v2h-2ZM418 159h3v2h-3ZM417 159h2v3h-2ZM421 156h1v3h-1ZM410 157h2v3h-2ZM419 158h1v3h-1ZM417 160h2v2h-2ZM412 152h3v2h-3ZM407 151h3v3h-3ZM415 153h2v2h-2ZM414 154h2v1h-2ZM419 158h2v2h-2ZM411 151h1v1h-1ZM408 151h3v2h-3ZM418 161h3v3h-3ZM413 153h2v3h-2ZM419 161h2v1h-2ZM413 154h2v2h-2ZM420 160h3v2h-3ZM415 158h1v2h-1ZM434 164h1v1h-1ZM441 204h2v1h-2ZM445 202h2v1h-2ZM445 202h1v1h-1ZM450 196h2v1h-2ZM350 192h1v1h-1ZM351 189h1v2h-1ZM351 193h1v1h-1ZM351 191h1v1h-1ZM348 208h3v2h-3ZM354 207h2v2h-2ZM344 206h2v2h-2ZM345 205h1v2h-1ZM357 206h3v2h-3ZM345 208h2v2h-2ZM361 206h1v2h-1ZM357 209h1v2h-1ZM357 210h2v2h-2ZM356 206h2v2h-2ZM353 208h2v3h-2ZM350 208h2v3h-2ZM352 209h2v2h-2ZM347 204h3v3h-3ZM352 207h2v2h-2ZM355 205h2v2h-2ZM357 198h1v1h-1ZM357 198h1v2h-1ZM356 203h1v1h-1ZM355 199h1v1h-1ZM353 198h1v1h-1ZM354 195h1v1h-1ZM391 236h2v1h-2ZM377 223h1v1h-1ZM373 220h1v1h-1ZM370 217h2v1h-2ZM397 241h1v1h-1ZM384 228h1v1h-1ZM397 240h1v1h-1ZM394 239h1v1h-1ZM377 223h2v2h-2ZM436 220h2v1h-2ZM434 214h3v2h-3ZM434 212h3v2h-3ZM434 214h3v2h-3ZM431 218h2v2h-2ZM432 218h2v2h-2ZM437 226h2v1h-2ZM446 230h1v2h-1ZM447 231h2v1h-2ZM444 230h3v1h-3ZM440 228h3v2h-3ZM448 231h2v2h-2ZM443 232h1v2h-1ZM443 227h3v1h-3ZM446 228h2v1h-2ZM447 230h3v2h-3ZM430 237h1v2h-1ZM436 234h2v1h-2ZM433 235h2v2h-2ZM424 256h2v3h-2ZM414 248h3v2h-3ZM425 253h2v2h-2ZM410 247h2v2h-2ZM414 250h2v3h-2ZM420 255h1v2h-1ZM421 251h2v2h-2ZM426 251h3v2h-3ZM422 255h1v2h-1ZM417 252h3v1h-3ZM418 251h3v1h-3ZM417 250h2v3h-2ZM425 252h2v3h-2ZM425 253h3v2h-3ZM427 252h2v2h-2ZM420 252h2v2h-2ZM428 253h2v1h-2ZM424 249h2v2h-2ZM426 252h2v2h-2ZM385 232h2v1h-2ZM395 236h1v1h-1ZM396 238h3v3h-3ZM397 242h1v1h-1ZM393 236h3v3h-3ZM390 233h1v3h-1ZM392 231h1v2h-1ZM395 238h1v2h-1ZM391 236h3v1h-3ZM384 230h1v1h-1ZM390 236h2v3h-2ZM385 228h2v3h-2ZM396 240h3v2h-3ZM397 244h2v2h-2ZM424 259h2v1h-2ZM442 267h2v1h-2ZM410 249h1v2h-1ZM414 252h1v2h-1ZM416 253h1v1h-1ZM429 259h1v1h-1ZM426 257h1v1h-1ZM424 257h1v2h-1ZM435 263h1v1h-1ZM410 249h1v1h-1ZM440 269h1v1h-1ZM442 269h1v1h-1ZM443 271h1v2h-1ZM445 270h1v1h-1ZM417 252h1v1h-1ZM425 259h2v1h-2ZM434 262h1v1h-1ZM433 262h1v1h-1ZM428 257h2v1h-2ZM417 251h1v1h-1ZM444 284h1v1h-1ZM447 284h1v1h-1ZM446 283h1v2h-1ZM447 284h1v1h-1ZM442 283h1v1h-1ZM435 281h2v1h-2ZM438 280h1v1h-1ZM438 281h1v1h-1ZM456 292h2v1h-2ZM455 294h1v1h-1ZM453 295h1v1h-1ZM459 286h1v1h-1ZM469 270h3v1h-3ZM477 265h1v2h-1ZM465 277h1v3h-1ZM466 277h2v2h-2ZM467 275h3v3h-3ZM474 271h3v3h-3ZM479 266h2v2h-2ZM466 277h1v2h-1ZM475 265h1v2h-1ZM468 275h2v1h-2ZM474 272h2v2h-2ZM468 277h3v2h-3ZM474 272h3v1h-3ZM473 268h2v3h-2ZM475 267h1v2h-1ZM478 266h3v2h-3ZM474 267h2v2h-2ZM474 268h3v1h-3ZM466 275h3v2h-3ZM474 265h3v1h-3ZM465 280h2v2h-2ZM472 270h2v1h-2ZM475 264h3v1h-3ZM476 264h2v1h-2ZM481 282h1v2h-1ZM483 282h1v1h-1ZM483 283h1v1h-1ZM483 283h1v1h-1ZM479 281h2v1h-2ZM475 281h1v1h-1ZM500 291h1v1h-1ZM504 296h1v1h-1ZM499 291h1v2h-1ZM496 289h2v1h-2ZM525 304h1v1h-1ZM521 304h1v1h-1ZM512 304h1v1h-1ZM509 304h2v1h-2ZM509 301h1v1h-1ZM529 306h1v2h-1ZM519 302h1v1h-1ZM512 303h2v1h-2ZM510 304h1v2h-1ZM538 307h1v1h-1ZM529 304h1v1h-1ZM509 302h1v1h-1ZM511 304h1v1h-1ZM506 301h1v1h-1ZM523 304h2v1h-2ZM536 307h1v1h-1ZM534 307h1v1h-1ZM534 306h1v1h-1ZM527 304h1v1h-1ZM544 304h1v2h-1ZM556 299h1v2h-1ZM545 303h1v2h-1ZM563 297h1v1h-1ZM546 303h1v1h-1ZM551 300h1v2h-1ZM556 299h1v2h-1ZM547 302h1v1h-1ZM459 210h2v1h-2ZM467 217h1v1h-1ZM453 205h1v1h-1ZM467 217h1v1h-1ZM474 220h1v1h-1ZM545 225h1v1h-1ZM549 229h1v1h-1ZM552 233h1v1h-1ZM552 240h2v1h-2ZM558 254h1v2h-1ZM558 257h1v1h-1ZM557 253h1v2h-1ZM554 249h1v1h-1ZM571 275h2v3h-2ZM567 275h2v2h-2ZM566 276h1v1h-1ZM564 274h3v1h-3ZM566 271h2v2h-2ZM562 270h2v2h-2ZM570 277h2v3h-2ZM562 272h2v2h-2ZM567 275h2v2h-2ZM571 275h2v2h-2ZM571 277h1v2h-1ZM572 278h3v2h-3ZM557 266h2v1h-2ZM572 272h2v2h-2ZM561 269h2v1h-2ZM560 262h1v2h-1ZM561 265h2v2h-2ZM561 270h2v2h-2ZM561 262h2v2h-2ZM559 266h2v2h-2ZM570 277h2v3h-2ZM560 266h1v2h-1ZM572 276h2v1h-2ZM560 269h3v1h-3ZM561 263h3v3h-3ZM572 275h1v3h-1ZM569 271h2v2h-2ZM559 266h2v2h-2ZM566 272h2v1h-2ZM557 265h2v2h-2ZM560 268h3v2h-3ZM574 276h2v2h-2ZM577 277h2v1h-2ZM568 267h3v3h-3ZM574 273h2v3h-2ZM570 272h3v2h-3ZM572 277h2v1h-2ZM566 270h2v2h-2ZM562 273h2v1h-2ZM572 275h2v1h-2ZM579 281h2v3h-2ZM575 273h1v1h-1ZM562 272h2v1h-2ZM578 276h3v2h-3ZM569 271h3v2h-3ZM568 276h3v1h-3ZM563 273h3v3h-3ZM570 269h2v3h-2ZM573 271h2v2h-2ZM581 280h2v2h-2ZM564 269h2v2h-2ZM568 274h2v2h-2ZM578 274h1v2h-1ZM577 272h2v1h-2ZM578 283h2v2h-2ZM578 282h2v2h-2ZM569 273h3v3h-3ZM567 275h1v3h-1ZM576 280h2v1h-2ZM581 283h2v2h-2ZM568 273h3v3h-3ZM581 277h2v1h-2ZM568 276h2v2h-2ZM577 283h1v3h-1ZM581 281h3v2h-3ZM578 277h1v1h-1ZM564 273h1v2h-1ZM570 274h3v1h-3ZM568 271h3v2h-3ZM576 282h2v3h-2ZM570 272h2v2h-2ZM576 273h1v3h-1ZM574 271h2v2h-2ZM567 272h1v1h-1ZM572 275h1v2h-1ZM574 271h2v2h-2ZM564 272h1v2h-1ZM568 276h3v2h-3ZM570 275h3v2h-3ZM567 276h2v3h-2ZM574 295h1v1h-1ZM573 289h1v1h-1ZM572 294h1v2h-1ZM572 297h1v2h-1ZM574 294h1v2h-1ZM574 296h1v1h-1ZM572 295h1v1h-1ZM572 296h1v1h-1ZM572 294h2v2h-2ZM560 311h3v2h-3ZM565 311h1v1h-1ZM564 309h3v2h-3ZM571 307h3v3h-3ZM572 308h1v3h-1ZM565 308h3v2h-3ZM559 318h2v2h-2ZM558 317h3v2h-3ZM564 315h3v3h-3ZM570 303h2v2h-2ZM557 322h2v2h-2ZM566 310h2v2h-2ZM567 305h3v1h-3ZM557 321h1v2h-1ZM563 313h1v2h-1ZM562 317h2v2h-2ZM568 312h2v2h-2ZM559 313h2v3h-2ZM569 305h2v1h-2ZM560 319h2v1h-2ZM566 311h3v2h-3ZM558 321h2v1h-2ZM567 307h3v3h-3ZM572 310h2v2h-2ZM562 310h2v3h-2ZM573 309h3v3h-3ZM562 311h2v1h-2ZM566 313h2v2h-2ZM559 313h3v1h-3ZM571 303h2v2h-2ZM561 315h2v1h-2ZM560 315h2v3h-2ZM566 311h2v3h-2ZM573 306h2v2h-2ZM556 316h2v2h-2ZM568 310h3v1h-3ZM556 315h1v2h-1ZM568 311h1v2h-1ZM568 311h1v2h-1ZM554 319h2v2h-2ZM564 324h1v1h-1ZM563 325h2v1h-2ZM566 326h1v2h-1ZM559 324h1v1h-1ZM569 326h2v1h-2ZM560 323h1v1h-1ZM591 271h1v1h-1ZM597 275h1v1h-1ZM607 283h1v1h-1ZM623 291h1v1h-1ZM628 292h1v1h-1ZM618 291h2v1h-2ZM622 291h1v1h-1ZM653 304h1v1h-1ZM651 295h1v1h-1ZM653 338h1v1h-1ZM653 325h1v1h-1ZM653 321h1v1h-1ZM589 327h2v1h-2ZM589 327h1v1h-1ZM583 321h2v1h-2ZM593 329h1v2h-1ZM577 318h1v2h-1ZM577 317h2v1h-2ZM598 346h2v2h-2ZM597 336h2v2h-2ZM597 338h2v2h-2ZM598 350h2v1h-2ZM600 336h1v3h-1ZM601 339h2v3h-2ZM605 364h2v1h-2ZM600 346h3v2h-3ZM602 345h1v2h-1ZM597 344h3v3h-3ZM605 366h3v3h-3ZM598 342h3v3h-3ZM596 340h2v3h-2ZM599 365h2v3h-2ZM600 363h1v1h-1ZM604 364h1v3h-1ZM600 348h2v2h-2ZM604 366h3v1h-3ZM597 347h2v2h-2ZM603 363h2v2h-2ZM603 344h2v1h-2ZM596 347h2v2h-2ZM597 346h2v2h-2ZM597 349h2v2h-2ZM602 348h2v3h-2ZM602 346h2v3h-2ZM596 341h1v1h-1ZM597 347h2v3h-2ZM601 357h3v2h-3ZM604 352h2v2h-2ZM598 343h2v2h-2ZM598 356h2v2h-2ZM599 358h1v2h-1ZM601 344h2v2h-2ZM599 357h2v2h-2ZM602 359h3v2h-3ZM600 361h1v1h-1ZM604 354h2v2h-2ZM604 360h1v1h-1ZM603 355h1v3h-1ZM590 371h3v2h-3ZM595 367h1v2h-1ZM595 362h3v2h-3ZM592 364h3v3h-3ZM591 371h2v2h-2ZM590 363h2v2h-2ZM593 369h2v1h-2ZM590 362h2v3h-2ZM593 366h1v2h-1ZM594 365h3v3h-3ZM591 361h3v2h-3ZM593 366h2v2h-2ZM591 364h1v2h-1ZM592 363h3v2h-3ZM592 364h2v2h-2ZM595 365h2v2h-2ZM595 370h2v2h-2ZM591 363h3v3h-3ZM608 375h2v2h-2ZM619 377h2v2h-2ZM596 376h2v2h-2ZM598 375h1v1h-1ZM615 380h1v2h-1ZM601 373h2v1h-2ZM601 374h1v2h-1ZM618 377h2v3h-2ZM597 373h1v1h-1ZM603 374h3v1h-3ZM620 377h1v2h-1ZM614 377h3v2h-3ZM602 374h3v3h-3ZM609 377h3v2h-3ZM599 375h3v2h-3ZM611 378h3v2h-3ZM620 379h1v1h-1ZM611 379h3v1h-3ZM594 375h2v2h-2ZM607 375h2v3h-2ZM612 379h2v2h-2ZM611 378h2v1h-2ZM604 377h2v2h-2ZM596 372h1v2h-1ZM595 373h2v1h-2ZM596 375h2v1h-2ZM614 380h2v3h-2ZM622 386h1v1h-1ZM644 351h2v2h-2ZM640 351h1v2h-1ZM641 359h1v2h-1ZM639 356h2v3h-2ZM641 360h2v1h-2ZM643 357h3v2h-3ZM643 356h1v3h-1ZM640 370h2v3h-2ZM640 364h1v2h-1ZM640 359h2v1h-2ZM639 369h2v2h-2ZM639 362h2v2h-2ZM640 362h2v2h-2ZM645 347h2v2h-2ZM639 368h2v1h-2ZM641 369h2v2h-2ZM640 365h2v3h-2ZM642 360h1v2h-1ZM639 354h3v3h-3ZM637 370h3v3h-3ZM640 354h2v3h-2ZM641 354h3v2h-3ZM639 361h2v3h-2ZM637 370h1v2h-1ZM625 370h1v2h-1ZM629 362h1v2h-1ZM637 409h1v2h-1ZM638 391h1v2h-1ZM637 392h2v2h-2ZM637 403h1v1h-1ZM636 378h2v1h-2ZM636 391h1v1h-1ZM636 434h2v2h-2ZM636 443h2v1h-2ZM543 574h2v2h-2ZM529 578h1v2h-1ZM529 574h2v3h-2ZM528 574h2v2h-2ZM523 579h2v2h-2ZM526 574h2v2h-2ZM524 575h2v1h-2ZM535 573h2v2h-2ZM535 575h1v2h-1ZM532 575h2v2h-2ZM533 573h2v2h-2ZM543 572h1v2h-1ZM544 573h1v2h-1ZM538 571h3v2h-3ZM542 571h1v2h-1ZM537 571h3v2h-3ZM523 576h1v2h-1ZM530 575h2v1h-2ZM533 572h3v2h-3ZM529 576h2v3h-2ZM524 577h3v2h-3ZM544 570h3v3h-3ZM527 576h1v3h-1ZM540 573h1v2h-1ZM562 570h3v2h-3ZM562 585h1v1h-1ZM567 579h3v3h-3ZM564 584h2v2h-2ZM565 584h2v1h-2ZM564 573h2v2h-2ZM566 573h2v2h-2ZM565 577h1v3h-1ZM566 576h1v3h-1ZM563 584h1v3h-1ZM564 580h3v2h-3ZM564 571h2v3h-2ZM566 573h1v3h-1ZM833 477h1v1h-1Z"/></mask>
<path mask="url(#hm)" fill="#000" stroke="#000" stroke-width=".8" stroke-linejoin="round" shape-rendering="crispEdges" d="M187.9 200.5L188.4 203L190 204.8L190.3 207.4L191.8 209.3L194.2 210.7L197.3 209L196.7 206.6L196.8 203.9L194.5 202.4L192.6 200.7L192.3 198.2ZM192.1 271.6L194.7 271.5L197.3 271.5L199.9 271.2L202.5 270.4L205.1 270.4L204.9 268.6L202.3 269L199.7 268.5L197.1 268.6L194.5 269.6L191.9 269.8ZM203.2 270.5L205.2 271.7L206.3 273.9L208.4 275L210.3 276.4L211.9 277.9L213.8 279.3L215.2 281.2L217.5 282.1L218.6 280.8L216.9 279.3L215.4 277.5L213.9 275.6L212.3 274L210.4 272.7L208.1 271.8L206.7 269.9L204.8 268.5ZM225.8 282.2L226.5 279.9L227.7 277.7L228.6 275.4L228.6 273L228.5 270.5L229.2 268.3L227 267.8L225.6 269.9L225 272.2L224.8 274.6L224.6 277L224.1 279.4L223.7 281.7ZM228 269.2L230.3 269.3L232.7 269.5L235 269.2L237.3 268.9L239.7 269.3L242 269L242 266.8L239.7 266.9L237.3 267L235 267.1L232.7 266.5L230.3 266.4L228 267.2ZM282.3 230.8L285.1 231L286.3 233.8L289.1 234L290.2 237.1L293.3 236.7L295.3 238.3L297.4 239.7L300.5 234.5L298.6 232.8L297.1 230.5L294.8 229.4L291.7 229.8L289.5 228.6L287.3 227.4L285.4 225.6ZM287.5 223.7L289.9 222.1L292.2 220.5L294.3 218.5L292.3 216.2L289.8 217.6L287.1 218.8L285.3 221ZM289.8 227.1L291.8 226.1L293.4 224.5L295.9 224.1L296.9 221.8L298.9 220.8L297.2 218.5L294.9 219L293.5 220.9L291.2 221.5L289.8 223.3L288 224.6ZM298 214.5L300.5 214.4L303.2 214.9L305.3 214.1L306.9 212.3L308.9 211.3L310.7 209.9L312.8 209.1L314.2 206.9L312 202.5L309.6 202.8L307.4 203.2L305.9 205.2L303 204.4L301.7 207L299.2 207L297.9 209.4L295.9 210.3ZM310.4 207.8L312 206L313.6 204L317.1 204L318.5 201.8L319.5 199.4L321.2 197.6L322.5 195.4L317.1 190.2L315.8 192.4L313.6 193.7L312.2 195.8L309.3 196.5L308.5 199.1L306.8 200.9L305.9 203.5ZM320.5 198L323.7 197.5L324.8 195.3L326.9 193.9L329.4 192.8L330.8 190.9L330.5 187.6L331.7 185.4L331.8 182.4L326.8 178.4L325.9 180.8L323.8 182.2L322 183.8L320.1 185.4L319.4 187.9L317.7 189.6L315.3 190.8L314.9 193.5ZM325.1 181.7L327.6 181.5L329.5 180.4L331 178.6L332.9 177.5L334.9 176.4L336.2 174.4L338 173.1L335.9 169.7L333.8 170.7L331.4 171.1L329.8 172.6L327.4 173.1L326 175L325 177.4L322.9 178.3ZM333.5 171L334.3 168.8L334.7 166.5L334.6 164.2L334.7 161.9L334.5 159.6L334.7 157.3L334.8 155.1L333.1 154.9L332.9 157.2L332.9 159.5L332.5 161.8L332.5 164.1L332.1 166.4L332.4 168.7L332 170.9ZM335.4 155.3L338.1 155L340.1 153.5L342.4 152.4L344.7 151.4L346.5 149.4L345.6 147.7L343 148.2L340.9 149.6L338.4 150.3L336.6 152.1L334.3 153.3ZM391.7 140.7L393.5 141.9L395.5 142.9L397.5 143.8L399.7 144.4L401.2 146.3L403.2 147.2L405.2 148.1L407.2 149.1L409.3 149.8L411.3 150.8L413.4 151.5L415.3 152.5L417.4 153.3L419.2 154.5L421.5 154.8L423.6 155.5L425.4 157L427.7 157.3L429.6 158.3L430.3 156.9L428.4 155.7L426.5 154.6L424.5 153.6L422.6 152.5L420.5 151.9L418.6 150.7L416.5 150L414.8 148.3L412.5 148.1L410.5 147.1L408.4 146.5L406.8 144.7L404.7 144.1L402.7 143.1L400.4 142.8L398.5 141.7L396.3 141.2L394.4 140.1L392.4 139.2ZM405.5 150.7L405.2 154.7L407.1 156L409.3 157L410.9 158.6L413.1 159.6L413.4 162.8L417.3 161.7L418.8 163.6L423.7 157.8L421.9 156.5L420.6 154.4L418.1 153.7L418.3 149.9L417 147.9L413.7 148.2L411 147.8L409.1 146.6ZM430.2 158.4L430.6 160.9L431.5 163L433.3 164.6L434.8 166.4L436.8 165.2L436.1 163L434.4 161.3L433.6 159.1L431.7 157.6ZM442.1 207.7L444.3 206.5L445.8 204.4L448.1 203.3L444.6 199.5L441.3 199.5L440.6 202.4L438.6 203.9ZM447.2 202.6L448.3 200.7L449.1 198.5L450.3 196.7L451.3 194.6L449.3 193.7L447.9 195.5L447 197.5L445.1 199.1L445.2 201.6ZM349 174.1L348.7 176.4L348.9 178.8L348.5 181.1L348.2 183.5L349.2 185.8L349.1 188.1L349.9 190.4L350.1 192.8L349.9 195.1L353.1 194.9L352.7 192.6L352.3 190.3L352.6 187.9L352.6 185.5L352.1 183.2L352.7 180.8L351.9 178.6L351.5 176.2L351.3 173.9ZM343.1 206.9L345.3 207.9L347.2 210.5L349.2 212L351.6 212.2L354.3 211L356.5 212.1L358.9 212.1L361.5 211.1L362.7 205.8L360.3 205.4L358.2 204.3L356.3 201.6L353.7 202.6L351.7 200.6L349.1 201.6L346.6 201.6L344.3 201.4ZM350.9 196.4L351.3 198.8L352.2 201L354.8 201.9L355 204.5L356.8 206L358.1 207.9L360.2 209.1L360.7 211.6L364.5 209L363.9 206.7L363.7 204.1L362.6 202.2L361.8 199.9L358.9 199.2L358.2 197L356.2 195.6L354.9 193.7ZM363.1 213L365.1 214.2L366.5 216L368.2 217.6L370.2 218.6L371.9 220.1L373.4 221.9L374.9 223.6L376.7 225L378 227L379.6 228.5L381.6 229.6L383.6 230.8L385.5 232.1L386.7 234.1L388.5 235.6L390.4 236.8L392.2 238.2L393.9 239.6L395.6 241.1L397.4 242.5L399.2 243.9L400.6 242.3L399.2 240.5L397.2 239.3L395.6 237.7L394.2 235.9L392.5 234.4L390.7 233L388.7 231.8L387.1 230.3L385.3 228.8L384.2 226.7L381.9 225.9L380.6 223.9L378.4 223L376.9 221.3L375.3 219.7L373.6 218.1L371.7 216.9L369.9 215.6L368.2 214.1L366.6 212.5L364.5 211.4ZM429 215L428.6 218.9L431.7 219.3L434.2 220.3L436.4 221.6L441 217L439.8 214.7L438.7 212.3L435.7 211.8L434.2 209.8ZM433.1 224.7L435 226.1L434.8 229.4L436.6 230.9L438.8 232.1L439.5 234.5L441.7 235.7L444.1 236.6L450 231.2L448.1 229.9L446.5 228.1L446.1 225.4L444.6 223.6L441.7 223.1L440.5 221L438 220.2ZM424.5 241.1L426.5 240L428.8 239.5L431.1 239.1L433 238.1L434.6 236.2L437.1 236.1L438.7 234.3L440.9 233.8L442.6 232.2L444.5 231L446.6 230.3L445.3 227.6L443.6 229.2L441.1 229.1L439.5 231L437.4 231.9L434.9 231.7L432.9 232.7L430.9 233.8L429.2 235.4L427.3 236.5L425.4 237.7L423.7 239.3ZM406.6 247.9L409 248.3L411.1 249.2L413.1 250.2L413.1 254.6L415.5 254.9L418.2 254.8L420.4 255.5L421 258.8L424.5 257.3L426.1 259L427.9 260.4L429.6 261.9L433.1 256.2L431.9 253.9L430.8 251.4L429.2 249.7L427.9 247.5L426 246.3L422.7 247.3L421.2 245.6L418.9 245L417.5 242.9L416 241.1L412.9 242L410.6 241.3ZM382.1 227.7L383.6 229.4L383 232.9L385.2 234L386 236.3L389 236.7L389.7 239.1L391.6 240.5L392.5 242.7L395 243.5L396.5 245.2L402 240.3L400 239.1L399.9 236.2L397.7 235.1L397.2 232.5L395 231.4L393.3 229.9L392.7 227.4L389.5 227.2L388.5 225L386.9 223.5ZM406.9 247.6L409 248.6L410.5 250.4L412.3 252L413.4 254.4L415.6 255.2L418.1 255.7L418.8 258.8L420.6 260.2L423.5 260.1L424.9 262.1L426.9 263.3L428.6 264.8L430.3 266.5L432.1 267.9L435.3 267.3L436.6 269.4L438.6 270.6L440.9 271.2L442.9 272.4L444.5 274.2L447.3 270.1L445.7 268.4L444 266.7L441.7 266L440 264.4L438.1 263.2L436.6 261.3L434.3 260.6L432.6 258.9L431 257.3L428.9 256.2L426.5 255.7L424.9 253.9L423.7 251.5L421.1 251.4L419.2 250L417.4 248.5L415 247.9L413 246.8L411.8 244.6L409.3 244.2ZM433.6 281.9L435.4 283.8L437.4 285.1L439.9 284.8L442.2 285.2L444.3 286L446.5 286.9L448.7 287.5L450.9 287.9L453.3 287.9L455.3 289.3L456.6 284.8L454.6 283.6L452.3 283.4L450.2 282.3L447.9 282.2L445.7 281.5L443.3 281.3L441.5 279.5L439.2 279.1L437 278.5L434.5 278.7ZM449.8 303.5L451.5 301.6L452.3 299.3L454.3 297.6L455.5 295.5L456.2 293.1L457.3 290.9L458.5 288.8L460.3 287L460.7 284.4L458.8 283.3L457.8 285.5L456.5 287.6L454.6 289.3L453.4 291.5L452.1 293.5L451.3 295.9L450.4 298.2L449.3 300.3L447.8 302.3ZM449.6 304.5L451.5 303L452.6 301L450.8 299.4L448.5 300.5L447.1 302.3ZM464.2 282.3L465.8 280.5L467.6 279L469.5 277.5L472.2 276.9L474.5 275.9L474.2 272.2L476.7 271.3L477.2 268.5L480.2 268.1L480.7 265.3L477.4 261.8L475.7 263.5L472.3 263.4L470.7 265.2L468.9 266.7L466.8 267.9L465.4 269.9L464.7 272.6L463.3 274.5L461.4 276L460.5 278.4ZM467.6 280.5L469.8 281.3L472 282L474.4 281.8L476.5 282.9L478.6 283.8L480.9 284.1L483.1 284.6L485.5 284.7L487.8 284.8L488.3 282.6L486.1 282.2L484 281.2L481.8 280.5L479.7 279.6L477.5 278.9L475.1 279.1L472.9 278.4L470.5 278.6L468.2 278ZM487.2 281.9L489 283.3L490.5 284.9L491.8 286.8L493.9 287.8L495.1 289.8L497.2 290.9L498.3 293L500.5 294L501.9 295.8L503.7 297.1L505.2 298.8L506.6 297.4L505.1 295.6L503.3 294.3L502.2 292.2L500.4 290.8L499 289L497.1 287.8L495.3 286.4L493.6 284.9L492.3 283L490.5 281.7L488.8 280.1ZM504.8 304.6L506.9 305.7L509.1 305.8L511.1 307L513.4 306.4L515.5 307.1L517.8 307.3L519.9 308.1L522 308.8L524.3 308.3L526.6 307.6L528.7 308.7L530.8 309.4L533.2 307.5L535.4 308.4L537.5 309.3L539.8 307.8L540.2 304.4L538.1 303.5L536 302.6L533.7 303L531.5 303.2L529.4 302.7L527.3 301.2L525.1 300.8L522.7 302.4L520.8 300.2L518.5 301L516.2 301.5L514.2 299.7L511.9 300L509.7 299.8L507.4 301L505.3 300.2ZM540.2 304.8L542.5 304.4L544.6 303.7L547.1 304.1L549.3 303.6L551.4 302.9L553.6 302.2L555.5 300.9L557.6 300L560 300.3L562 298.9L564.2 298.5L566.4 297.7L565.7 295.5L563.4 295.6L561.2 296.2L558.9 296.5L557 297.7L554.7 298.1L552.6 298.9L550.2 298.7L548.1 299.6L546 300.5L544 301.5L541.9 302.3L539.8 303.1ZM451.4 203.7L453.1 205.1L454.4 207L456 208.6L457.5 210.3L459.6 211.4L461.2 212.9L462.8 214.5L464.3 216.2L465.9 217.8L467.6 219.3L469.6 220.4L470.5 219.5L468.9 217.9L467.4 216.2L466.2 214.2L464.1 213.1L462.6 211.4L460.8 210.1L459.3 208.4L457.8 206.7L456.1 205.2L454.5 203.6L452.4 202.5ZM469.9 220.7L472.3 221L474.6 221.9L477.1 222L479.5 222.1L481.9 222.8L482.1 221.6L479.7 220.8L477.3 220.4L475 219.8L472.5 219.8L470.1 219.2ZM539.2 221.3L540.9 222.8L542.2 224.9L543.7 226.6L545.9 227.8L547.6 229.3L549.2 231L550.7 232.8L552 231.5L550.4 229.8L549.3 227.6L547.7 226L545.9 224.5L544.1 223L542.4 221.4L540.5 220ZM550.1 231.1L550.3 233.6L550.3 236.2L551 238.6L550.8 241.2L551.9 243.6L552.1 246.1L554 245.9L553.7 243.4L553.2 240.9L552.9 238.4L552.5 235.9L552.4 233.4L551.7 230.9ZM551.5 245.5L552.3 247.6L553.7 249.5L554.5 251.6L555.1 253.9L557 255.4L557.8 257.5L558.5 259.7L560 261.5L561 263.5L562.9 262.5L562.2 260.4L560.9 258.5L560.4 256.1L558.8 254.4L557.6 252.5L556.5 250.6L556.1 248.2L554.8 246.3L553.4 244.5ZM554.8 265.3L556.3 267L556.6 269.9L558 271.8L560.3 272.6L561.5 274.6L562.3 277.1L563.7 278.8L567.1 278.6L567.4 281.4L569.6 282.4L572.8 282.3L576.7 278.2L576.2 275.4L573.9 274.6L574.8 270.4L572.1 270L571.9 266.9L568.5 267.2L568.4 264.1L564.6 264.7L562.4 263.8L562.1 260.9L560.2 259.7ZM561.2 270.5L562.1 273.2L562.9 275.9L564.4 277.6L566.8 278.1L568.8 279.1L570.6 280.4L572.4 281.6L574.8 282L576.7 283.2L578.7 284.3L580.2 286L586.1 277.6L584.6 275.8L581.5 276.4L581.4 272.6L578.8 272.6L577.2 270.9L576.8 267.7L574.1 267.6L572.8 265.6L570.3 265.3L567.3 265.7L564.6 265.7ZM571 284L571.3 286.3L571 288.6L571.2 290.9L570.9 293.2L571.1 295.5L571.3 297.8L571.1 300.1L571.5 302.4L570.9 304.7L571.8 307L574.3 307L574.3 304.7L574.2 302.4L575.5 300L574.4 297.8L574.8 295.5L575.1 293.1L574 290.9L573.9 288.6L573.7 286.3L574 284ZM554.9 323.3L557.4 322.9L558.6 320.8L560.7 319.7L562.6 318.6L565.5 318.5L567.2 317.1L569.1 315.8L571.1 314.7L572 312.3L574.3 311.5L575.7 309.6L576.7 307.3L572.6 302.2L569.8 302.3L566.9 302.4L565.5 304.3L564.1 306.1L561.6 306.6L560.5 308.7L559.6 311.2L556.3 310.7L554 311.5L552.8 313.6L551.4 315.4L550.9 318.4ZM552.4 324.5L554.9 325L557.1 326.4L559.7 326L561.8 328.3L564.6 327.1L567.2 327.2L569.5 328.3L570.6 323.4L568.2 322.8L565.7 322.7L563.6 320.4L561 320.6L558.5 320.3L555.9 320.4L553.5 319.8ZM589.5 269.6L591.3 271L593.1 272.4L594.5 274.2L596.4 275.5L598.2 276.9L599.8 278.6L601.3 280.2L603.4 281.3L605.2 282.7L606.8 284.3L608.3 286L610.3 287.2L612.2 288.5L613.6 290.3L615.4 291.7L616.3 290.6L614.6 289.2L613.2 287.2L611.4 285.9L609.7 284.4L608.1 282.8L606.5 281.2L604.8 279.7L602.7 278.6L601.2 276.9L599.3 275.6L597.6 274.1L595.6 272.9L593.8 271.5L592.1 270.1L590.4 268.6ZM615.9 291.7L618.2 291.9L620.4 292.3L622.6 293.1L624.9 293.2L627.2 293.2L629.4 294.2L631.8 293.9L634 294.2L636.3 294.7L638.5 295.3L640.8 295.3L643.1 295.7L645.3 295.9L647.6 296.2L649.9 296L650.1 294.9L647.8 294.7L645.5 294.3L643.3 293.7L641 293.5L638.8 292.8L636.5 292.9L634.3 292.3L632 291.9L629.8 291.6L627.4 291.7L625.2 291.4L622.9 290.8L620.6 290.8L618.3 290.7L616.1 290.1ZM649 293.3L649.7 295.6L650.4 297.8L650.8 300.2L651.6 302.4L651.9 304.8L653.1 306.9L653.9 309.2L655.4 308.8L654.8 306.4L654.3 304.1L654.1 301.7L653.4 299.5L652.5 297.2L651.6 295L650.5 292.8ZM653.1 309L653 311.2L652.9 313.4L652.8 315.6L652.6 317.8L652.7 320.1L652 322.2L652.5 324.5L652 326.7L652.3 328.9L652.6 331.1L652.3 333.3L651.9 335.5L652 337.8L652.1 340L653.7 340L654 337.8L653.9 335.6L654.4 333.4L653.9 331.2L654.5 329L654.2 326.7L654.9 324.5L654.7 322.3L654.8 320.1L654.2 317.9L654.9 315.7L654.7 313.5L654.7 311.2L654.6 309ZM573.2 316L575.3 317.1L576.7 319.1L578.7 320.4L580.2 322.2L582.2 323.4L583.7 325.3L585.7 326.5L587.8 327.6L589.9 328.7L591.6 330.4L593.2 332.1L595.2 333.3L597.5 334.1L598.6 332.7L596.9 331L595.5 329.1L593.6 327.7L591.5 326.7L590.2 324.6L588.1 323.4L586.6 321.6L584.3 320.7L582.4 319.3L580.3 318.3L578.3 317.1L576.6 315.4L574.5 314.3ZM594.7 334.4L594 336.8L594.9 339L595.2 341.2L595.6 343.5L595.3 345.8L593.1 348.3L593.2 350.6L595.1 352.7L594.1 355.1L597.1 357.1L596.3 359.4L596.3 361.7L598.8 363.7L598.3 366.1L599 368.3L606 367.6L604.2 365.5L605.4 363.1L605.1 360.8L605.7 358.5L607.6 356L605.5 353.9L604.6 351.7L607.2 349.1L604.7 347.1L606.5 344.6L603.2 342.7L605.5 340.2L603 338.1L603.6 335.8L602.8 333.6ZM589.9 358.1L590.2 360.4L589.5 362.7L589.4 365L590.2 367.2L590.3 369.5L590.3 371.8L589.7 374.1L596.2 373.9L595.5 371.6L595.5 369.3L596.9 367L595.3 364.8L595 362.5L596.6 360.2L595.7 357.9ZM592.6 376.2L594.7 378L597.3 377L599.4 378.6L601.8 378.5L604.1 379.5L606.5 379.4L608.8 379.8L611 381L613.4 381.1L616 380.1L618.3 380.7L620.5 381.8L621.4 376.6L619 376.8L617.1 374.1L614.7 373.6L612.3 373.9L610 373.3L607.7 372.5L605.2 373.3L603.1 371.1L600.4 372.8L598.2 372L595.7 372.3L593.5 371.4ZM620.6 377.1L620.3 379.7L620.7 382.3L620.9 384.9L620.9 387.5L621.8 390.1L623.3 389.9L623.3 387.3L623 384.7L623.1 382.1L622.5 379.5L622.5 376.9ZM641 372.4L641.1 370.1L641.5 367.9L643.3 365.9L643.9 363.6L643.1 361.2L645.5 359.3L643.5 356.7L645.4 354.6L646 352.4L645.2 350L644.5 347.6L645.2 345.4L640.7 344.6L639.3 346.7L638.6 348.9L637.5 351L637.5 353.3L638.5 355.8L638 358L637.3 360.2L637.3 362.5L636.6 364.7L636.4 367L635.3 369.2L635.9 371.6ZM624.8 370.7L626 368.7L627.6 367.1L629.1 365.3L630.9 363.8L632.2 361.9L633.2 359.8L634.7 358.1L636 356.2L637.9 354.8L639.3 353L640.7 351.2L641.6 349L642.8 347L644.3 345.3L645.9 343.7L644.4 342.5L643.1 344.4L641.4 346L639.9 347.7L638.5 349.5L637.1 351.3L635.7 353.1L634.4 354.9L632.8 356.6L631.2 358.3L630.2 360.4L628.3 361.8L627 363.7L626.1 365.8L624.5 367.5L623.1 369.3ZM635.9 374L635.9 376.2L636 378.5L635.9 380.8L635.4 383L635.3 385.2L635.4 387.5L635.3 389.8L635.2 392L635.4 394.2L635.5 396.5L635.1 398.8L635 401L635.2 403.2L634.9 405.5L635.5 407.8L635.5 410L635.5 412.2L634.8 414.5L635.1 416.8L635 419L635.4 421.2L635.6 423.5L635.3 425.8L635.8 428L635.1 430.2L636 432.5L635.8 434.8L635.3 437L635.5 439.2L636.1 441.5L636.2 443.8L636.1 446L637.6 446L637.7 443.8L638.5 441.5L638.3 439.2L638.2 437L638.8 434.8L638.4 432.5L638.1 430.2L638.7 428L638.9 425.8L638.1 423.5L638.9 421.2L638.6 419L639.2 416.8L638.9 414.5L639 412.2L638.2 410L639.2 407.8L638.8 405.5L639.2 403.2L638.8 401L638.7 398.8L638.2 396.5L638.3 394.2L638.1 392L638.5 389.8L638.7 387.5L637.9 385.2L637.9 383L638.6 380.8L638.5 378.5L637.9 376.2L638 374ZM521.9 580.5L524.4 580.6L526.4 579L529.1 579.8L531.1 578.1L533.5 578L535.8 577.3L538.3 577.3L540.6 576.8L542.8 575.7L544.4 573L546.8 572.8L545.3 567.7L542.9 568L540.6 568.6L538.3 569.1L535.9 569.5L533.1 568.2L531.4 571L529 571.1L526.4 570.7L524.4 572.4L522.2 573.2L520.2 574.9ZM560.1 568.2L559.8 570.5L560.6 572.7L560.2 575L561.3 577.1L560.6 579.4L560.7 581.7L561.7 583.9L562.8 586.1L567.1 585.9L567.6 583.6L568.7 581.3L568.9 579L569.3 576.7L568.5 574.5L567.8 572.3L567.3 570L565.3 567.9ZM832 434L831.8 436.2L831.8 438.5L831.5 440.7L831.6 442.9L831.4 445.2L831.8 447.4L832 449.6L831.6 451.8L831.9 454.1L832.1 456.3L832.1 458.5L831.8 460.7L831.9 463L831.9 465.2L831.8 467.4L832.3 469.7L831.9 471.9L832.5 474.1L832.6 476.3L832.5 478.6L832.6 480.8L832.7 483L834 483L833.9 480.8L834.1 478.5L833.9 476.3L833.8 474.1L833.8 471.9L834 469.6L833.7 467.4L833.8 465.2L833.8 462.9L834.2 460.7L833.7 458.5L833.9 456.3L833.4 454L833.8 451.8L833.6 449.6L833.7 447.3L833.8 445.1L833.3 442.9L833.1 440.7L833.2 438.4L833.2 436.2L832.9 434Z"/>
<path fill="#000" stroke="#000" stroke-width=".9" stroke-linejoin="round" shape-rendering="crispEdges" d="M231.6 280.4L233 280L234 284.4L232.5 284.6ZM319.6 200.2L321.5 199.5L325.4 208.6L323.8 210L321 206ZM513.6 575.2L519.2 573.2L523 574L522 577.5L519.2 577.6ZM563.2 553.6L568.8 560L565.6 561.6L566.4 568.8L563.2 568.8L564 560.8ZM820 529.4L825.6 527.2L824 530.4L821 532ZM586.4 356.8L589.6 358L589 359.5ZM596 418.4L601.6 419.5L601 421L596.5 420ZM594.4 427.2L596.8 427.6L596.8 428.4ZM599.2 433.5L601 431.8L601.8 434.4ZM590.4 450.5L592 449.4L592.9 451L591.3 452.2ZM600.8 466.4L603 461L608.8 455.2L616 451.2L616.5 452.3L611 456.5L606 462L603 466.8ZM560.8 467.2L565 465.5L570.4 465.2L570 466.4L565 467.5ZM544 308.6L549 308.8L549 310.4L544 310.6ZM546.5 331.5L551.5 330L552 334.5L547.5 335.5ZM471 338L473 337.5L474 339.5L472 340.5ZM484 341L487 340.6L491 343L490.5 345L487 344ZM572 528L573.5 526.2L574.6 527.5L573.2 531.2ZM474.4 650.4L475.6 649.2L476.8 650.4L475.6 651.6ZM480 647.5L481.5 646.2L484 648.2L481 648.4ZM524 652L527.2 652L525 655.6ZM564 639.3L567.2 639.5L566.8 643.6ZM767.7 637.6L769.2 638L769.5 648L768 648ZM259 436.3L261.3 434.2L263 436.3L261.5 438.8ZM841.6 476.8L842.6 476.8L842.2 481.6L841.2 481.6ZM843.2 492.8L848 495.5L852.8 500.8L851.8 501.5L847 497.5ZM836.3 520.8L837.3 520.8L837.9 525.6L836.7 525.6ZM854.4 522.4L855.3 522.6L854.4 526.4L853.4 526.2ZM853.6 533.6L855 534L856.8 540.8L855.5 541.3L853.8 537Z"/>
<rect x="45.5" y="71" width="908.5" height="659" fill="none" stroke="#000" stroke-width="2.2"/>
<path d="M48.7 731V735M155.2 731V735M261.8 731V735M368.3 731V735M474.9 731V735M581.5 731V735M688 731V735M794.6 731V735M901.1 731V735M44.5 110.4H40.5M44.5 176.6H40.5M44.5 242.8H40.5M44.5 308.9H40.5M44.5 375.1H40.5M44.5 441.3H40.5M44.5 507.5H40.5M44.5 573.7H40.5M44.5 639.8H40.5M44.5 706H40.5" fill="none" stroke="#000" stroke-width="1"/>
<text class="t" y="27.6" font-size="29.6"><tspan x="171.5" textLength="124" lengthAdjust="spacingAndGlyphs">Caribbean</tspan> <tspan x="306.9" textLength="100.9" lengthAdjust="spacingAndGlyphs">Institute</tspan> <tspan x="425.3" textLength="35.7" lengthAdjust="spacingAndGlyphs">for</tspan> <tspan x="472.7" textLength="145.8" lengthAdjust="spacingAndGlyphs">Meteorology</tspan> <tspan x="634.5" textLength="43.3" lengthAdjust="spacingAndGlyphs">and</tspan> <tspan x="693.7" textLength="119.8" lengthAdjust="spacingAndGlyphs">Hydrology</tspan></text>
<text class="t" y="54.8" font-size="32.6"><tspan x="80.3" textLength="158.8" lengthAdjust="spacingAndGlyphs">Aggregated</tspan> <tspan x="255.2" textLength="252.4" lengthAdjust="spacingAndGlyphs">precipitation(mm)</tspan> <tspan x="529.3" textLength="43.3" lengthAdjust="spacingAndGlyphs">TCI</tspan> <tspan x="579.5" textLength="69.1" lengthAdjust="spacingAndGlyphs">Valid</tspan> <tspan x="666" textLength="47.8" lengthAdjust="spacingAndGlyphs">02Z</tspan> <tspan x="736.7" textLength="92.6" lengthAdjust="spacingAndGlyphs">26/10</tspan> <tspan x="846" textLength="71" lengthAdjust="spacingAndGlyphs">2014</tspan></text>
<text class="ax" x="12.4" y="116" textLength="26" lengthAdjust="spacingAndGlyphs">22N</text>
<text class="ax" x="1.4" y="182.2" textLength="37" lengthAdjust="spacingAndGlyphs">21.9N</text>
<text class="ax" x="1.4" y="248.4" textLength="37" lengthAdjust="spacingAndGlyphs">21.8N</text>
<text class="ax" x="1.4" y="314.5" textLength="37" lengthAdjust="spacingAndGlyphs">21.7N</text>
<text class="ax" x="1.4" y="380.7" textLength="37" lengthAdjust="spacingAndGlyphs">21.6N</text>
<text class="ax" x="1.4" y="446.9" textLength="37" lengthAdjust="spacingAndGlyphs">21.5N</text>
<text class="ax" x="1.4" y="513.1" textLength="37" lengthAdjust="spacingAndGlyphs">21.4N</text>
<text class="ax" x="1.4" y="579.3" textLength="37" lengthAdjust="spacingAndGlyphs">21.3N</text>
<text class="ax" x="1.4" y="645.4" textLength="37" lengthAdjust="spacingAndGlyphs">21.2N</text>
<text class="ax" x="1.4" y="711.6" textLength="37" lengthAdjust="spacingAndGlyphs">21.1N</text>
<text class="ax" x="30.2" y="748" textLength="37.5" lengthAdjust="spacingAndGlyphs">72.6W</text>
<text class="ax" x="136.8" y="748" textLength="37.5" lengthAdjust="spacingAndGlyphs">72.4W</text>
<text class="ax" x="243.4" y="748" textLength="37.5" lengthAdjust="spacingAndGlyphs">72.2W</text>
<text class="ax" x="355.4" y="748" textLength="26.5" lengthAdjust="spacingAndGlyphs">72W</text>
<text class="ax" x="456.4" y="748" textLength="37.5" lengthAdjust="spacingAndGlyphs">71.8W</text>
<text class="ax" x="563" y="748" textLength="37.5" lengthAdjust="spacingAndGlyphs">71.6W</text>
<text class="ax" x="669.5" y="748" textLength="37.5" lengthAdjust="spacingAndGlyphs">71.4W</text>
<text class="ax" x="776.1" y="748" textLength="37.5" lengthAdjust="spacingAndGlyphs">71.2W</text>
<text class="ax" x="888.1" y="748" textLength="26.5" lengthAdjust="spacingAndGlyphs">71W</text>
<g stroke="#000" stroke-width="1" stroke-linejoin="miter">
<path fill="#fff" d="M153 765L100.5 774.5L153 784Z"/>
<rect x="153" y="765" width="53.4" height="19" fill="#aaaaaa"/>
<rect x="206.4" y="765" width="53.4" height="19" fill="#a000c8"/>
<rect x="259.7" y="765" width="53.4" height="19" fill="#8200dc"/>
<rect x="313.1" y="765" width="53.4" height="19" fill="#1e3cff"/>
<rect x="366.5" y="765" width="53.4" height="19" fill="#00a0ff"/>
<rect x="419.8" y="765" width="53.4" height="19" fill="#00c8c8"/>
<rect x="473.2" y="765" width="53.4" height="19" fill="#00d28c"/>
<rect x="526.6" y="765" width="53.4" height="19" fill="#00dc00"/>
<rect x="580" y="765" width="53.4" height="19" fill="#a0e632"/>
<rect x="633.3" y="765" width="53.4" height="19" fill="#e6dc32"/>
<rect x="686.7" y="765" width="53.4" height="19" fill="#e6af2d"/>
<rect x="740.1" y="765" width="53.4" height="19" fill="#f08228"/>
<rect x="793.4" y="765" width="53.4" height="19" fill="#fa3c3c"/>
<path fill="#f00082" d="M846.8 765L900.5 774.5L846.8 784Z"/>
</g>
<text class="cb" x="153.5" y="803.2" text-anchor="middle">1</text>
<text class="cb" x="206.9" y="803.2" text-anchor="middle">5</text>
<text class="cb" x="250.8" y="803.2" textLength="19.5" lengthAdjust="spacingAndGlyphs">10</text>
<text class="cb" x="304.2" y="803.2" textLength="19.5" lengthAdjust="spacingAndGlyphs">15</text>
<text class="cb" x="357.5" y="803.2" textLength="19.5" lengthAdjust="spacingAndGlyphs">20</text>
<text class="cb" x="410.9" y="803.2" textLength="19.5" lengthAdjust="spacingAndGlyphs">25</text>
<text class="cb" x="464.3" y="803.2" textLength="19.5" lengthAdjust="spacingAndGlyphs">30</text>
<text class="cb" x="517.6" y="803.2" textLength="19.5" lengthAdjust="spacingAndGlyphs">50</text>
<text class="cb" x="571" y="803.2" textLength="19.5" lengthAdjust="spacingAndGlyphs">80</text>
<text class="cb" x="618.9" y="803.2" textLength="30.5" lengthAdjust="spacingAndGlyphs">110</text>
<text class="cb" x="672.2" y="803.2" textLength="30.5" lengthAdjust="spacingAndGlyphs">140</text>
<text class="cb" x="725.6" y="803.2" textLength="30.5" lengthAdjust="spacingAndGlyphs">180</text>
<text class="cb" x="779" y="803.2" textLength="30.5" lengthAdjust="spacingAndGlyphs">220</text>
<text class="cb" x="832.4" y="803.2" textLength="30.5" lengthAdjust="spacingAndGlyphs">250</text>
</svg></body></html>
